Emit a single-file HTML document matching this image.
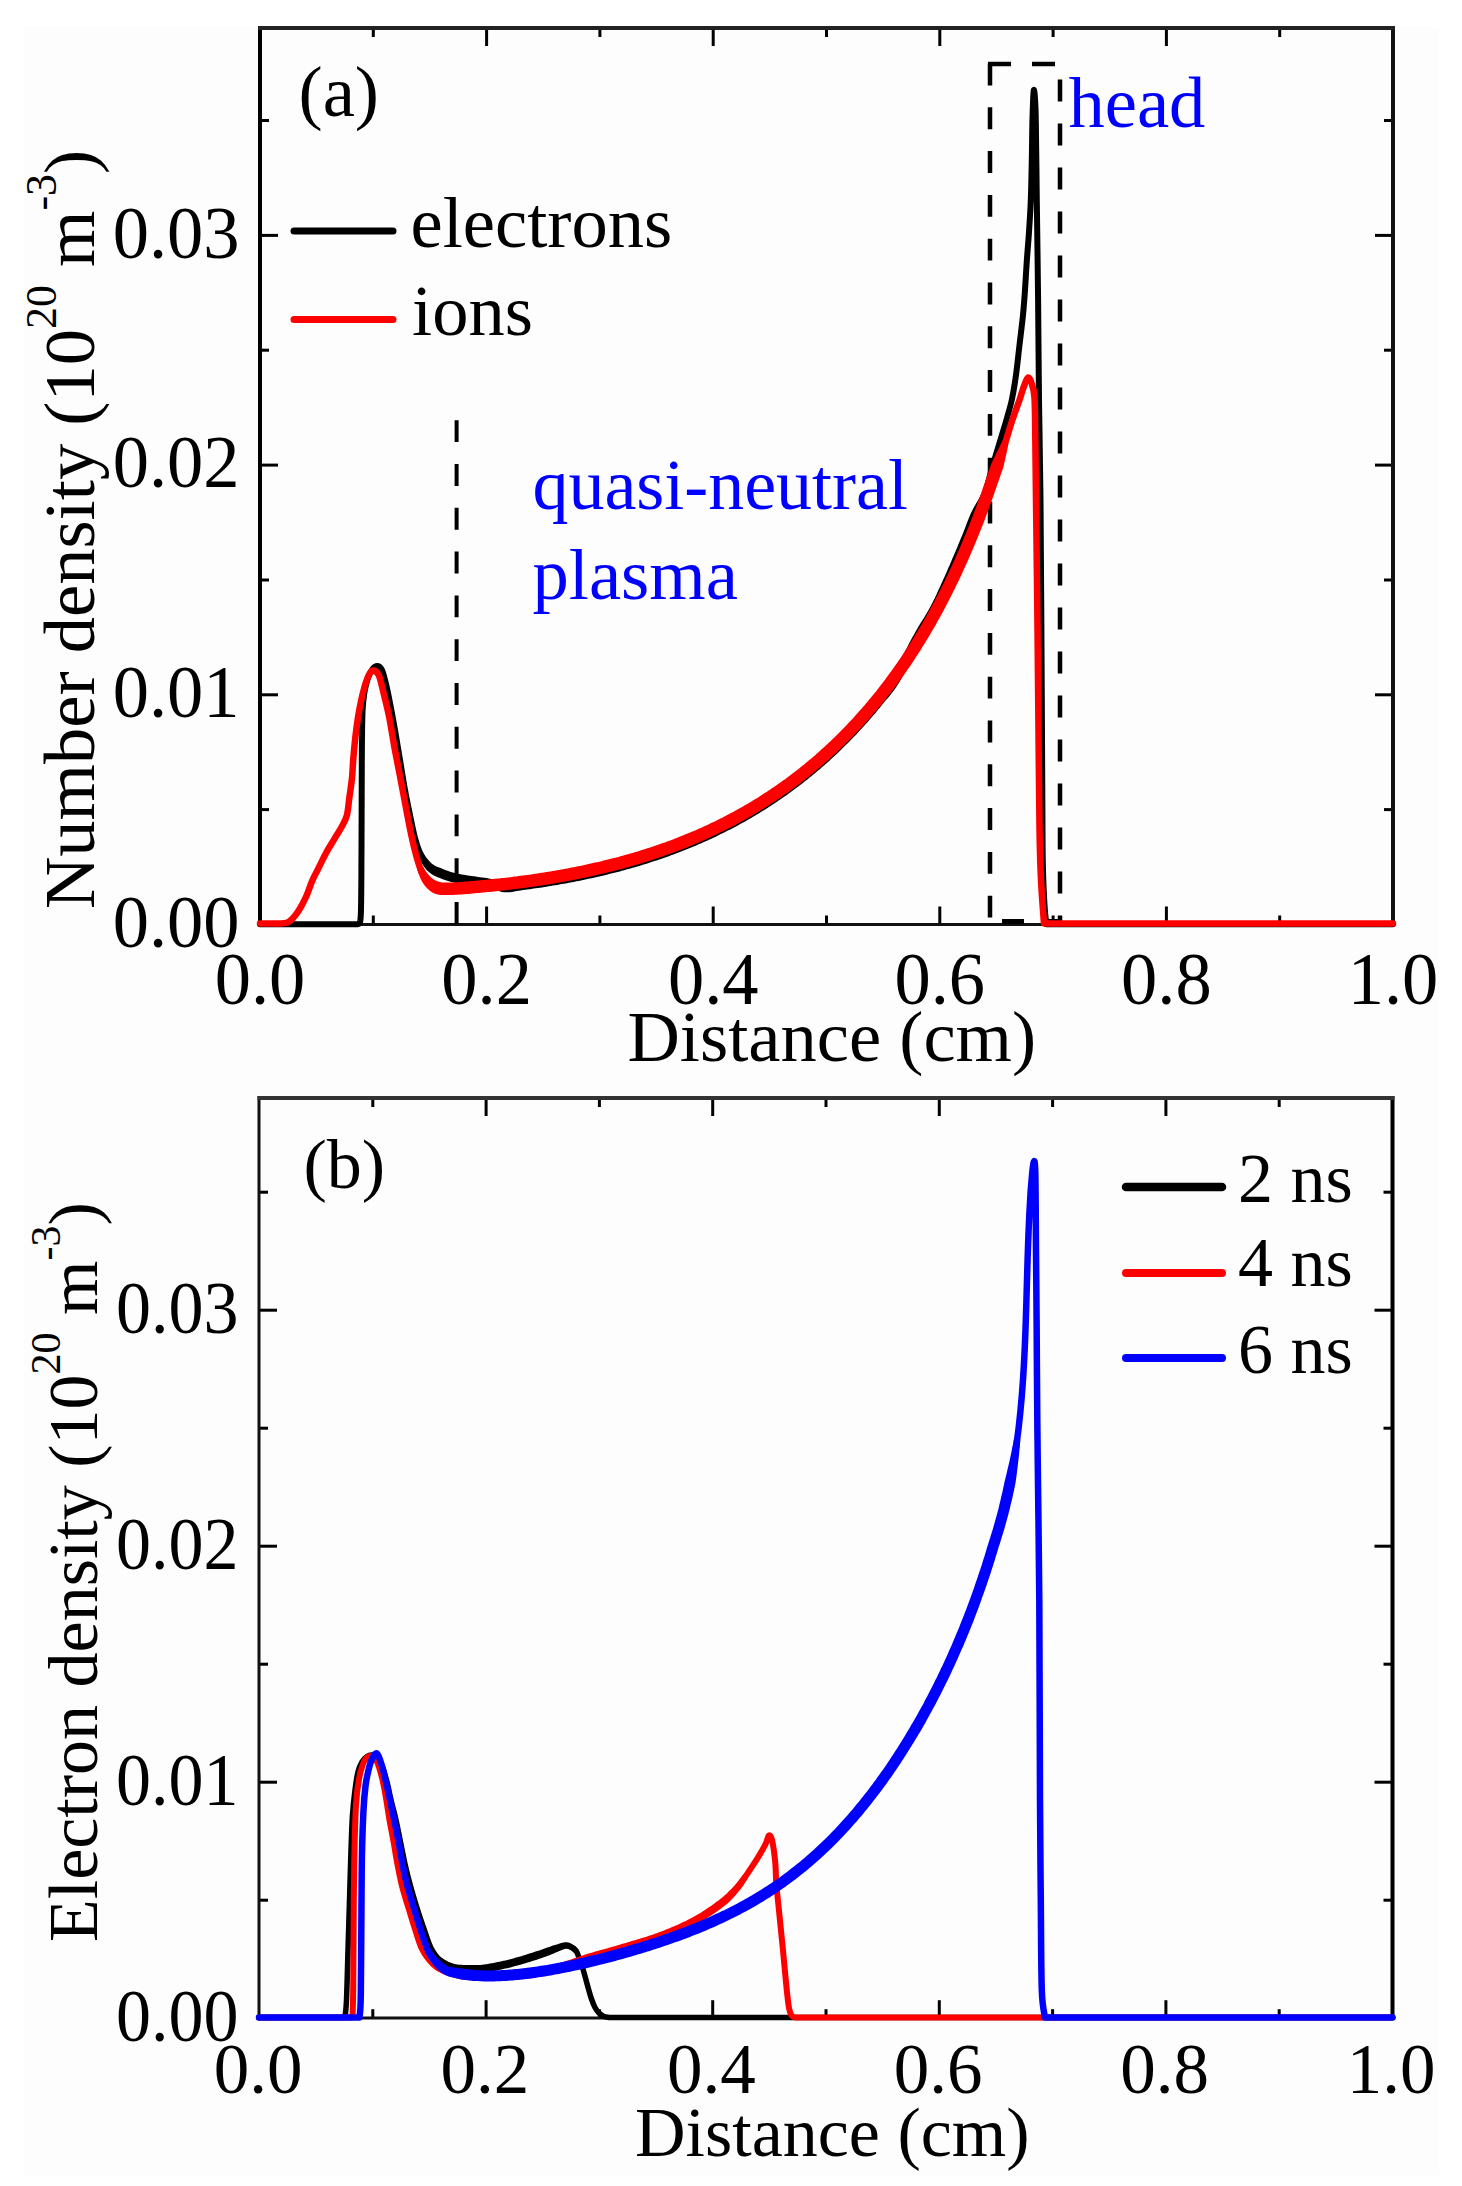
<!DOCTYPE html>
<html><head><meta charset="utf-8"><style>
html,body{margin:0;padding:0;background:#fff;width:1462px;height:2186px;overflow:hidden}
svg{display:block;position:absolute;left:0;top:0}
</style></head><body>
<svg xmlns="http://www.w3.org/2000/svg" width="1462" height="2186" viewBox="0 0 1462 2186" font-family='"Liberation Serif", serif'>
<rect x="0" y="0" width="1462" height="2186" fill="#fff"/>
<rect x="24" y="26" width="1415" height="2149" fill="#fdfdfd"/>
<line x1="373.3" y1="924.5" x2="373.3" y2="915.5" stroke="#000" stroke-width="3"/>
<line x1="373.3" y1="28" x2="373.3" y2="37" stroke="#000" stroke-width="3"/>
<line x1="486.6" y1="924.5" x2="486.6" y2="906.5" stroke="#000" stroke-width="3"/>
<line x1="486.6" y1="28" x2="486.6" y2="46" stroke="#000" stroke-width="3"/>
<line x1="599.9" y1="924.5" x2="599.9" y2="915.5" stroke="#000" stroke-width="3"/>
<line x1="599.9" y1="28" x2="599.9" y2="37" stroke="#000" stroke-width="3"/>
<line x1="713.2" y1="924.5" x2="713.2" y2="906.5" stroke="#000" stroke-width="3"/>
<line x1="713.2" y1="28" x2="713.2" y2="46" stroke="#000" stroke-width="3"/>
<line x1="826.5" y1="924.5" x2="826.5" y2="915.5" stroke="#000" stroke-width="3"/>
<line x1="826.5" y1="28" x2="826.5" y2="37" stroke="#000" stroke-width="3"/>
<line x1="939.8" y1="924.5" x2="939.8" y2="906.5" stroke="#000" stroke-width="3"/>
<line x1="939.8" y1="28" x2="939.8" y2="46" stroke="#000" stroke-width="3"/>
<line x1="1053.1" y1="924.5" x2="1053.1" y2="915.5" stroke="#000" stroke-width="3"/>
<line x1="1053.1" y1="28" x2="1053.1" y2="37" stroke="#000" stroke-width="3"/>
<line x1="1166.4" y1="924.5" x2="1166.4" y2="906.5" stroke="#000" stroke-width="3"/>
<line x1="1166.4" y1="28" x2="1166.4" y2="46" stroke="#000" stroke-width="3"/>
<line x1="1279.7" y1="924.5" x2="1279.7" y2="915.5" stroke="#000" stroke-width="3"/>
<line x1="1279.7" y1="28" x2="1279.7" y2="37" stroke="#000" stroke-width="3"/>
<line x1="260" y1="809.6" x2="269" y2="809.6" stroke="#000" stroke-width="3"/>
<line x1="1393" y1="809.6" x2="1384" y2="809.6" stroke="#000" stroke-width="3"/>
<line x1="260" y1="694.8" x2="278" y2="694.8" stroke="#000" stroke-width="3"/>
<line x1="1393" y1="694.8" x2="1375" y2="694.8" stroke="#000" stroke-width="3"/>
<line x1="260" y1="580.0" x2="269" y2="580.0" stroke="#000" stroke-width="3"/>
<line x1="1393" y1="580.0" x2="1384" y2="580.0" stroke="#000" stroke-width="3"/>
<line x1="260" y1="465.1" x2="278" y2="465.1" stroke="#000" stroke-width="3"/>
<line x1="1393" y1="465.1" x2="1375" y2="465.1" stroke="#000" stroke-width="3"/>
<line x1="260" y1="350.2" x2="269" y2="350.2" stroke="#000" stroke-width="3"/>
<line x1="1393" y1="350.2" x2="1384" y2="350.2" stroke="#000" stroke-width="3"/>
<line x1="260" y1="235.4" x2="278" y2="235.4" stroke="#000" stroke-width="3"/>
<line x1="1393" y1="235.4" x2="1375" y2="235.4" stroke="#000" stroke-width="3"/>
<line x1="260" y1="120.5" x2="269" y2="120.5" stroke="#000" stroke-width="3"/>
<line x1="1393" y1="120.5" x2="1384" y2="120.5" stroke="#000" stroke-width="3"/>
<rect x="258" y="26" width="4" height="900" fill="#000"/>
<rect x="1391" y="26" width="4" height="900" fill="#111"/>
<rect x="258" y="26" width="1137" height="4" fill="#222"/>
<rect x="258" y="923" width="1137" height="3" fill="#111"/>
<line x1="456.6" y1="420.2" x2="456.6" y2="924.5" stroke="#000" stroke-width="4" stroke-dasharray="21.9 21.9"/>
<line x1="988" y1="64" x2="1062" y2="64" stroke="#000" stroke-width="4.5" stroke-dasharray="23 21"/>
<line x1="1060" y1="64" x2="1060" y2="924" stroke="#000" stroke-width="4.5" stroke-dasharray="22 22" stroke-dashoffset="28.5"/>
<line x1="990" y1="62" x2="990" y2="924" stroke="#000" stroke-width="4.5" stroke-dasharray="21.9 21.9" stroke-dashoffset="-1.5"/>
<line x1="990" y1="921.5" x2="1062" y2="921.5" stroke="#000" stroke-width="5" stroke-dasharray="22 22" stroke-dashoffset="32"/>
<path d="M260.00,924.20 C276.33,924.20 341.67,924.20 358.00,924.20 C358.47,922.67 360.22,927.37 360.80,915.00 C361.38,902.63 361.33,875.83 361.50,850.00 C361.67,824.17 361.63,783.00 361.80,760.00 C361.97,737.00 362.05,723.33 362.50,712.00 C362.95,700.67 363.58,697.67 364.50,692.00 C365.42,686.33 366.67,681.83 368.00,678.00 C369.33,674.17 370.90,671.00 372.50,669.00 C374.10,667.00 376.02,665.83 377.60,666.00 C379.18,666.17 380.60,667.00 382.00,670.00 C383.40,673.00 384.67,678.50 386.00,684.00 C387.33,689.50 388.50,695.33 390.00,703.00 C391.50,710.67 393.33,720.50 395.00,730.00 C396.67,739.50 398.33,750.00 400.00,760.00 C401.67,770.00 403.33,780.83 405.00,790.00 C406.67,799.17 408.33,807.00 410.00,815.00 C411.67,823.00 413.33,831.67 415.00,838.00 C416.67,844.33 418.17,848.83 420.00,853.00 C421.83,857.17 424.00,860.33 426.00,863.00 C428.00,865.67 429.67,867.33 432.00,869.00 C434.33,870.67 436.17,871.50 440.00,873.00 C443.83,874.50 449.50,876.67 455.00,878.00 C460.50,879.33 467.17,880.08 473.00,881.00 C478.83,881.92 484.67,882.41 490.00,883.50 C495.33,884.59 500.00,887.16 505.00,887.53 C510.00,887.89 515.00,886.35 520.00,885.70 C525.00,885.05 530.00,884.36 535.00,883.63 C540.00,882.89 545.00,882.12 550.00,881.30 C555.00,880.48 560.00,879.61 565.00,878.69 C570.00,877.78 575.00,876.81 580.00,875.79 C585.00,874.77 590.00,873.70 595.00,872.56 C600.00,871.43 605.00,870.24 610.00,868.99 C615.00,867.73 620.00,866.42 625.00,865.04 C630.00,863.66 635.00,862.21 640.00,860.69 C645.00,859.16 650.00,857.57 655.00,855.90 C660.00,854.23 665.00,852.48 670.00,850.64 C675.00,848.81 680.00,846.89 685.00,844.88 C690.00,842.87 695.00,840.78 700.00,838.58 C705.00,836.38 710.00,834.09 715.00,831.69 C720.00,829.29 725.00,826.79 730.00,824.17 C735.00,821.56 740.00,818.83 745.00,815.98 C750.00,813.12 755.00,810.16 760.00,807.05 C765.00,803.94 770.00,800.71 775.00,797.32 C780.00,793.94 785.00,790.43 790.00,786.74 C795.00,783.06 800.00,779.23 805.00,775.22 C810.00,771.21 815.00,767.04 820.00,762.67 C825.00,758.30 830.00,753.76 835.00,748.99 C840.00,744.22 845.00,739.27 850.00,734.06 C855.00,728.85 860.00,723.43 865.00,717.73 C870.00,712.02 875.00,706.09 880.00,699.82 C885.00,693.55 888.67,690.60 895.00,680.13 C901.33,669.66 911.50,648.69 918.00,637.00 C924.50,625.31 929.33,618.67 934.00,610.00 C938.67,601.33 942.17,593.33 946.00,585.00 C949.83,576.67 953.50,568.17 957.00,560.00 C960.50,551.83 963.83,543.83 967.00,536.00 C970.17,528.17 973.00,520.17 976.00,513.00 C979.00,505.83 982.33,500.50 985.00,493.00 C987.67,485.50 989.33,477.17 992.00,468.00 C994.67,458.83 998.50,446.33 1001.00,438.00 C1003.50,429.67 1005.17,424.50 1007.00,418.00 C1008.83,411.50 1010.50,406.17 1012.00,399.00 C1013.50,391.83 1014.75,384.00 1016.00,375.00 C1017.25,366.00 1018.33,355.00 1019.50,345.00 C1020.67,335.00 1022.08,324.17 1023.00,315.00 C1023.92,305.83 1024.37,299.00 1025.00,290.00 C1025.63,281.00 1026.13,270.67 1026.80,261.00 C1027.47,251.33 1028.33,242.17 1029.00,232.00 C1029.67,221.83 1030.33,212.00 1030.80,200.00 C1031.27,188.00 1031.52,173.67 1031.80,160.00 C1032.08,146.33 1032.17,129.67 1032.50,118.00 C1032.83,106.33 1033.30,91.67 1033.80,90.00 C1034.30,88.33 1035.10,98.00 1035.50,108.00 C1035.90,118.00 1035.98,134.67 1036.20,150.00 C1036.42,165.33 1036.48,175.00 1036.80,200.00 C1037.12,225.00 1037.73,266.67 1038.10,300.00 C1038.47,333.33 1038.60,366.67 1039.00,400.00 C1039.40,433.33 1040.03,450.00 1040.50,500.00 C1040.97,550.00 1041.45,641.67 1041.80,700.00 C1042.15,758.33 1042.15,815.83 1042.60,850.00 C1043.05,884.17 1043.87,892.63 1044.50,905.00 C1045.13,917.37 1046.08,921.00 1046.40,924.20 C1104.17,924.20 1335.23,924.20 1393.00,924.20" fill="none" stroke="#000" stroke-width="6" stroke-linejoin="round" stroke-linecap="round" />
<path d="M417.3,854.3 L418.3,856.8 L419.5,859.2 L420.7,861.4 L421.9,863.4 L423.0,865.3 L424.5,867.3 L426.0,869.2 L427.7,870.9 L429.5,872.5 L431.4,873.9 L433.4,875.2 L435.6,876.3 L438.2,877.4 L440.0,878.1 L442.0,878.9 L444.2,879.7 L446.5,880.4 L448.9,881.2 L451.4,882.0 L453.9,882.6 L455.9,883.1 L457.9,883.5 L460.0,883.8 L462.1,884.2 L464.2,884.5 L466.3,884.8 L468.3,885.1 L470.3,885.4 L472.3,885.7 L474.5,886.0 L476.7,886.3 L478.9,886.6 L481.1,886.9 L483.2,887.2 L485.2,887.5 L487.2,887.8 L489.0,888.1 L491.0,888.6 L493.0,889.2 L495.1,889.9 L497.2,890.7 L499.6,891.3 L502.0,891.9 L504.6,892.3 L507.2,892.3 L509.7,892.2 L512.1,891.9 L514.4,891.5 L516.6,891.1 L518.6,890.7 L520.7,890.4 L522.8,890.1 L524.9,889.8 L527.1,889.5 L529.2,889.3 L531.4,888.9 L533.5,888.6 L535.7,888.3 L537.8,888.0 L540.0,887.7 L542.2,887.4 L544.3,887.0 L546.5,886.7 L548.6,886.3 L550.8,886.0 L552.9,885.6 L555.1,885.3 L557.2,884.9 L559.4,884.5 L561.5,884.1 L563.7,883.8 L565.9,883.4 L568.0,883.0 L570.2,882.6 L572.3,882.2 L574.5,881.7 L576.6,881.3 L578.8,880.9 L581.0,880.4 L583.1,880.0 L585.3,879.5 L587.4,879.1 L589.6,878.6 L591.7,878.2 L593.9,877.7 L596.0,877.2 L598.2,876.7 L600.4,876.2 L602.5,875.7 L604.7,875.2 L606.8,874.7 L609.0,874.1 L611.2,873.6 L613.3,873.1 L615.5,872.5 L617.6,871.9 L619.8,871.4 L621.9,870.8 L624.1,870.2 L626.3,869.6 L628.4,869.0 L630.6,868.4 L632.7,867.8 L634.9,867.2 L637.1,866.5 L639.2,865.9 L641.4,865.2 L643.5,864.6 L645.7,863.9 L647.9,863.2 L650.0,862.5 L652.2,861.8 L654.3,861.1 L656.5,860.4 L658.7,859.7 L660.8,858.9 L663.0,858.2 L665.2,857.4 L667.3,856.7 L669.5,855.9 L671.6,855.1 L673.5,854.4 L675.4,853.7 L677.3,853.0 L679.2,852.3 L681.1,851.5 L683.0,850.8 L684.9,850.0 L686.8,849.3 L688.7,848.5 L690.6,847.8 L692.4,847.0 L694.3,846.2 L696.2,845.4 L698.1,844.6 L700.0,843.8 L701.9,842.9 L703.8,842.1 L705.7,841.2 L707.6,840.4 L709.5,839.5 L711.4,838.7 L713.3,837.8 L715.2,836.9 L717.1,836.0 L718.9,835.1 L720.8,834.1 L722.7,833.2 L724.6,832.3 L726.5,831.3 L728.4,830.3 L730.3,829.4 L732.2,828.4 L734.1,827.4 L736.0,826.4 L737.9,825.4 L739.8,824.3 L741.7,823.3 L743.6,822.2 L745.5,821.2 L747.4,820.1 L749.2,819.0 L751.1,817.9 L753.0,816.8 L754.9,815.7 L756.8,814.6 L758.7,813.4 L760.6,812.3 L762.5,811.1 L764.4,809.9 L766.3,808.7 L768.2,807.5 L770.1,806.3 L772.0,805.0 L773.9,803.8 L775.8,802.5 L777.7,801.3 L779.3,800.1 L781.0,799.0 L782.7,797.8 L784.4,796.6 L786.1,795.4 L787.8,794.2 L789.4,793.0 L791.1,791.8 L792.8,790.6 L794.5,789.3 L796.2,788.1 L797.9,786.8 L799.6,785.5 L801.2,784.2 L802.9,782.9 L804.6,781.6 L806.3,780.3 L808.0,778.9 L809.7,777.6 L811.3,776.2 L813.0,774.8 L814.7,773.4 L816.4,772.0 L818.1,770.6 L819.8,769.2 L821.4,767.7 L823.1,766.2 L824.6,764.9 L826.2,763.6 L827.7,762.2 L829.2,760.9 L830.7,759.5 L832.2,758.1 L833.7,756.7 L835.2,755.3 L836.8,753.9 L838.3,752.4 L839.8,751.0 L841.3,749.5 L842.8,748.0 L844.3,746.6 L845.8,745.1 L847.4,743.5 L848.9,742.0 L850.4,740.5 L851.9,738.9 L853.4,737.3 L854.8,735.9 L856.2,734.5 L857.6,733.0 L858.9,731.5 L860.3,730.0 L861.7,728.5 L863.1,727.0 L864.4,725.5 L865.8,724.0 L867.2,722.4 L868.6,720.9 L869.9,719.3 L871.3,717.7 L872.7,716.1 L874.1,714.5 L875.5,712.9 L876.8,711.2 L878.2,709.6 L879.6,707.9 L881.0,706.2 L882.3,704.5 L883.7,702.8 L884.9,701.3 L886.0,700.0 L887.2,698.7 L888.3,697.4 L889.5,696.0 L890.7,694.6 L891.9,693.0 L893.2,691.3 L894.6,689.5 L896.0,687.4 L897.5,685.1 L899.1,682.6 L899.9,681.2 L900.8,679.7 L901.7,678.1 L902.6,676.4 L903.6,674.7 L904.5,672.9 L905.5,671.0 L906.5,669.1 L907.6,667.2 L908.6,665.2 L909.6,663.2 L910.7,661.2 L911.7,659.2 L912.7,657.2 L913.8,655.2 L914.8,653.2 L915.8,651.3 L916.8,649.4 L917.7,647.5 L918.7,645.7 L919.6,644.0 L920.5,642.4 L921.3,640.8 L922.1,639.3 L923.4,637.1 L924.6,635.0 L925.8,633.0 L926.9,631.0 L928.1,629.2 L929.1,627.4 L930.2,625.7 L931.2,624.0 L932.3,622.4 L933.3,620.7 L934.3,619.1 L935.3,617.4 L936.2,615.7 L937.2,614.0 L938.2,612.3 L939.3,610.2 L940.3,608.2 L941.3,606.2 L942.3,604.3 L943.2,602.3 L944.2,600.4 L945.1,598.4 L946.0,596.5 L946.8,594.6 L947.7,592.7 L948.6,590.8 L949.4,588.9 L950.3,587.0 L951.2,585.0 L952.1,583.1 L953.0,581.2 L953.8,579.2 L954.7,577.3 L955.6,575.3 L956.4,573.4 L957.2,571.4 L958.1,569.5 L958.9,567.6 L959.7,565.7 L960.6,563.8 L961.4,561.9 L962.2,560.0 L963.0,558.1 L963.8,556.2 L964.6,554.4 L965.3,552.5 L966.1,550.6 L966.9,548.8 L967.7,546.9 L968.4,545.1 L969.2,543.3 L969.9,541.4 L970.7,539.6 L971.4,537.8 L972.2,535.8 L973.0,533.8 L973.8,531.8 L974.5,529.8 L975.3,527.9 L976.0,525.9 L976.7,524.0 L977.5,522.1 L978.2,520.3 L978.9,518.4 L979.5,516.5 L980.1,514.7 L980.8,512.7 L981.6,510.7 L982.4,508.7 L983.2,506.7 L984.0,504.8 L984.8,502.7 L985.6,500.7 L986.4,498.6 L987.1,496.3 L987.8,494.1 L982.2,491.9 L981.3,494.0 L980.3,496.0 L979.3,497.9 L978.3,499.7 L977.3,501.5 L976.2,503.3 L975.1,505.2 L974.1,507.1 L973.0,509.1 L971.9,511.3 L971.0,513.1 L970.1,514.9 L969.4,516.8 L968.6,518.7 L967.9,520.6 L967.1,522.6 L966.4,524.5 L965.6,526.4 L964.9,528.4 L964.1,530.3 L963.4,532.3 L962.6,534.2 L961.9,536.0 L961.1,537.8 L960.4,539.6 L959.6,541.5 L958.9,543.3 L958.1,545.1 L957.4,547.0 L956.6,548.8 L955.8,550.7 L955.0,552.5 L954.2,554.4 L953.4,556.3 L952.6,558.1 L951.8,560.0 L951.0,561.9 L950.2,563.8 L949.4,565.7 L948.5,567.6 L947.7,569.6 L946.9,571.5 L946.0,573.4 L945.2,575.3 L944.3,577.3 L943.4,579.2 L942.6,581.1 L941.7,583.0 L940.8,584.9 L939.9,586.9 L939.1,588.8 L938.2,590.6 L937.3,592.5 L936.5,594.4 L935.6,596.3 L934.7,598.2 L933.8,600.1 L932.8,602.0 L931.8,603.9 L930.9,605.8 L929.8,607.7 L928.9,609.4 L928.0,611.0 L927.1,612.6 L926.1,614.2 L925.2,615.8 L924.2,617.4 L923.2,619.0 L922.1,620.7 L921.0,622.5 L919.9,624.3 L918.8,626.1 L917.6,628.1 L916.4,630.2 L915.1,632.4 L913.9,634.7 L913.0,636.2 L912.1,637.8 L911.2,639.5 L910.3,641.3 L909.3,643.1 L908.3,645.0 L907.3,646.9 L906.3,648.9 L905.3,650.8 L904.3,652.8 L903.3,654.8 L902.2,656.8 L901.2,658.8 L900.2,660.8 L899.1,662.8 L898.1,664.7 L897.1,666.5 L896.2,668.4 L895.2,670.1 L894.3,671.8 L893.4,673.4 L892.5,674.9 L891.7,676.4 L890.9,677.6 L889.5,680.0 L888.1,682.1 L886.8,684.0 L885.6,685.6 L884.5,687.1 L883.3,688.5 L882.2,689.9 L881.1,691.2 L880.0,692.5 L878.8,693.8 L877.6,695.3 L876.3,696.8 L874.9,698.5 L873.6,700.2 L872.2,701.9 L870.9,703.5 L869.5,705.1 L868.2,706.7 L866.8,708.3 L865.5,709.9 L864.1,711.5 L862.8,713.0 L861.4,714.6 L860.1,716.1 L858.7,717.6 L857.4,719.2 L856.0,720.6 L854.7,722.1 L853.3,723.6 L852.0,725.1 L850.6,726.5 L849.3,727.9 L847.9,729.4 L846.6,730.8 L845.1,732.3 L843.6,733.8 L842.1,735.3 L840.6,736.8 L839.2,738.3 L837.7,739.8 L836.2,741.2 L834.7,742.7 L833.2,744.1 L831.7,745.6 L830.2,747.0 L828.8,748.4 L827.3,749.7 L825.8,751.1 L824.3,752.5 L822.8,753.8 L821.3,755.1 L819.8,756.5 L818.4,757.8 L816.9,759.1 L815.2,760.5 L813.6,761.9 L811.9,763.4 L810.3,764.7 L808.6,766.1 L807.0,767.5 L805.3,768.8 L803.7,770.2 L802.0,771.5 L800.4,772.8 L798.7,774.1 L797.1,775.4 L795.4,776.7 L793.8,778.0 L792.1,779.2 L790.5,780.5 L788.8,781.7 L787.2,782.9 L785.5,784.1 L783.9,785.3 L782.2,786.5 L780.6,787.7 L778.9,788.8 L777.3,790.0 L775.6,791.1 L774.0,792.3 L772.3,793.4 L770.5,794.6 L768.6,795.9 L766.8,797.1 L764.9,798.3 L763.1,799.5 L761.2,800.7 L759.3,801.9 L757.5,803.0 L755.6,804.2 L753.8,805.3 L751.9,806.4 L750.1,807.5 L748.2,808.6 L746.4,809.7 L744.5,810.8 L742.6,811.9 L740.8,812.9 L738.9,813.9 L737.1,815.0 L735.2,816.0 L733.4,817.0 L731.5,818.0 L729.7,819.0 L727.8,820.0 L725.9,820.9 L724.1,821.9 L722.2,822.8 L720.4,823.8 L718.5,824.7 L716.7,825.6 L714.8,826.5 L712.9,827.4 L711.1,828.3 L709.2,829.2 L707.4,830.0 L705.5,830.9 L703.7,831.7 L701.8,832.6 L699.9,833.4 L698.1,834.2 L696.2,835.0 L694.4,835.8 L692.5,836.6 L690.7,837.4 L688.8,838.2 L686.9,839.0 L685.1,839.7 L683.2,840.5 L681.4,841.2 L679.5,842.0 L677.7,842.7 L675.8,843.4 L673.9,844.1 L672.1,844.8 L670.2,845.5 L668.4,846.2 L666.2,847.0 L664.1,847.7 L662.0,848.5 L659.9,849.2 L657.7,850.0 L655.6,850.7 L653.5,851.4 L651.4,852.1 L649.2,852.8 L647.1,853.5 L645.0,854.2 L642.9,854.8 L640.7,855.5 L638.6,856.1 L636.5,856.8 L634.4,857.4 L632.2,858.0 L630.1,858.7 L628.0,859.3 L625.9,859.9 L623.7,860.5 L621.6,861.0 L619.5,861.6 L617.4,862.2 L615.2,862.7 L613.1,863.3 L611.0,863.8 L608.8,864.4 L606.7,864.9 L604.6,865.4 L602.5,865.9 L600.3,866.5 L598.2,867.0 L596.1,867.4 L594.0,867.9 L591.8,868.4 L589.7,868.9 L587.6,869.3 L585.4,869.8 L583.3,870.3 L581.2,870.7 L579.0,871.1 L576.9,871.6 L574.8,872.0 L572.7,872.4 L570.5,872.8 L568.4,873.2 L566.3,873.6 L564.1,874.0 L562.0,874.4 L559.9,874.8 L557.8,875.2 L555.6,875.5 L553.5,875.9 L551.4,876.3 L549.2,876.6 L547.1,877.0 L545.0,877.3 L542.8,877.6 L540.7,878.0 L538.6,878.3 L536.4,878.6 L534.3,878.9 L532.2,879.2 L530.0,879.5 L527.9,879.8 L525.8,880.1 L523.7,880.4 L521.5,880.7 L519.3,881.0 L517.1,881.3 L514.9,881.7 L512.7,882.1 L510.7,882.5 L508.8,882.7 L507.0,882.8 L505.4,882.8 L503.7,882.6 L502.0,882.2 L500.1,881.6 L498.1,880.9 L495.9,880.2 L493.5,879.5 L491.0,878.9 L488.8,878.4 L486.6,878.1 L484.5,877.8 L482.3,877.5 L480.1,877.2 L478.0,876.9 L475.9,876.6 L473.7,876.3 L471.7,876.0 L469.7,875.7 L467.6,875.4 L465.6,875.1 L463.6,874.8 L461.6,874.5 L459.7,874.1 L457.9,873.8 L456.1,873.4 L453.9,872.8 L451.7,872.2 L449.5,871.4 L447.4,870.7 L445.3,870.0 L443.4,869.2 L441.8,868.6 L439.3,867.6 L437.5,866.9 L436.0,866.3 L434.5,865.5 L433.0,864.5 L431.7,863.5 L430.4,862.3 L429.0,860.7 L427.7,859.3 L426.4,857.7 L425.2,855.9 L423.9,854.0 L422.7,851.7 Z" fill="#000"/>
<path d="M260.00,923.40 C263.67,923.40 278.33,923.40 282.00,923.40 C283.20,923.10 286.50,923.62 289.20,921.60 C291.90,919.58 295.42,915.37 298.20,911.30 C300.98,907.23 303.55,902.32 305.90,897.20 C308.25,892.08 310.17,885.50 312.30,880.60 C314.43,875.70 316.35,872.50 318.70,867.80 C321.05,863.10 323.85,857.10 326.40,852.40 C328.95,847.70 331.45,843.87 334.00,839.60 C336.55,835.33 339.55,830.87 341.70,826.80 C343.85,822.73 345.62,820.12 346.90,815.20 C348.18,810.28 348.55,803.48 349.40,797.30 C350.25,791.12 351.35,784.50 352.00,778.10 C352.65,771.70 352.67,766.37 353.30,758.90 C353.93,751.43 354.73,741.85 355.80,733.30 C356.87,724.75 358.20,715.50 359.70,707.60 C361.20,699.70 363.10,691.65 364.80,685.90 C366.50,680.15 368.40,675.67 369.90,673.10 C371.40,670.53 372.30,670.08 373.80,670.50 C375.30,670.92 377.20,671.55 378.90,675.60 C380.60,679.65 382.30,687.97 384.00,694.80 C385.70,701.63 387.40,708.05 389.10,716.60 C390.80,725.15 392.48,736.70 394.20,746.10 C395.92,755.50 397.68,764.03 399.40,773.00 C401.12,781.97 402.80,790.93 404.50,799.90 C406.20,808.87 407.90,818.48 409.60,826.80 C411.30,835.12 412.97,842.97 414.70,849.80 C416.43,856.63 418.12,862.93 420.00,867.80 C421.88,872.67 424.00,876.13 426.00,879.00 C428.00,881.87 429.67,883.42 432.00,885.00 C434.33,886.58 436.17,887.90 440.00,888.50 C443.83,889.10 450.00,888.76 455.00,888.59 C460.00,888.41 465.00,887.86 470.00,887.45 C475.00,887.04 480.00,886.60 485.00,886.12 C490.00,885.64 495.00,885.13 500.00,884.59 C505.00,884.04 510.00,883.46 515.00,882.83 C520.00,882.21 525.00,881.55 530.00,880.85 C535.00,880.14 540.00,879.40 545.00,878.61 C550.00,877.81 555.00,876.98 560.00,876.09 C565.00,875.21 570.00,874.28 575.00,873.29 C580.00,872.31 585.00,871.27 590.00,870.18 C595.00,869.08 600.00,867.93 605.00,866.72 C610.00,865.51 615.00,864.24 620.00,862.90 C625.00,861.56 630.00,860.16 635.00,858.68 C640.00,857.21 645.00,855.67 650.00,854.05 C655.00,852.42 660.00,850.73 665.00,848.95 C670.00,847.17 675.00,845.31 680.00,843.36 C685.00,841.41 690.00,839.38 695.00,837.24 C700.00,835.11 705.00,832.89 710.00,830.56 C715.00,828.22 720.00,825.80 725.00,823.25 C730.00,820.71 735.00,818.06 740.00,815.29 C745.00,812.52 750.00,809.63 755.00,806.61 C760.00,803.59 765.00,800.45 770.00,797.16 C775.00,793.87 780.00,790.45 785.00,786.87 C790.00,783.29 795.00,779.57 800.00,775.67 C805.00,771.77 810.00,767.72 815.00,763.47 C820.00,759.22 825.00,754.81 830.00,750.18 C835.00,745.55 840.00,740.74 845.00,735.68 C850.00,730.62 855.00,725.37 860.00,719.83 C865.00,714.30 870.00,708.55 875.00,702.48 C880.00,696.40 885.00,690.09 890.00,683.41 C895.00,676.72 900.00,669.76 905.00,662.38 C910.00,654.99 915.00,647.30 920.00,639.10 C925.00,630.90 930.00,622.34 935.00,613.19 C940.00,604.04 945.00,594.48 950.00,584.20 C955.00,573.93 960.00,563.17 965.00,551.55 C970.00,539.94 975.00,527.75 980.00,514.52 C985.00,501.29 990.75,484.27 995.00,472.18 C999.25,460.10 1002.67,450.53 1005.50,442.00 C1008.33,433.47 1009.67,428.00 1012.00,421.00 C1014.33,414.00 1017.50,405.83 1019.50,400.00 C1021.50,394.17 1022.58,389.75 1024.00,386.00 C1025.42,382.25 1026.75,378.00 1028.00,377.50 C1029.25,377.00 1030.42,379.58 1031.50,383.00 C1032.58,386.42 1033.87,388.50 1034.50,398.00 C1035.13,407.50 1035.05,423.00 1035.30,440.00 C1035.55,457.00 1035.68,473.33 1036.00,500.00 C1036.32,526.67 1036.83,566.67 1037.20,600.00 C1037.57,633.33 1037.82,661.83 1038.20,700.00 C1038.58,738.17 1039.03,799.00 1039.50,829.00 C1039.97,859.00 1040.25,864.27 1041.00,880.00 C1041.75,895.73 1043.50,916.17 1044.00,923.40 C1102.17,923.40 1334.83,923.40 1393.00,923.40" fill="none" stroke="#f00" stroke-width="6.5" stroke-linejoin="round" stroke-linecap="round" />
<path d="M417.0,869.0 L417.8,871.5 L418.6,873.9 L419.5,876.1 L420.3,878.1 L421.2,880.0 L422.1,881.8 L423.6,884.1 L425.2,886.2 L426.9,888.1 L428.7,889.7 L430.5,891.2 L432.8,892.8 L435.7,893.9 L438.9,894.7 L441.3,894.9 L443.6,895.1 L445.9,895.1 L448.3,895.1 L450.7,895.0 L453.0,894.9 L455.3,894.8 L457.5,894.7 L459.7,894.6 L461.9,894.4 L464.1,894.2 L466.3,894.0 L468.4,893.9 L470.5,893.7 L472.7,893.5 L474.8,893.3 L477.0,893.1 L479.1,892.9 L481.3,892.7 L483.4,892.5 L485.6,892.3 L487.7,892.1 L489.9,891.9 L492.1,891.7 L494.2,891.5 L496.4,891.3 L498.5,891.0 L500.7,890.8 L502.8,890.6 L505.0,890.3 L507.1,890.1 L509.3,889.8 L511.5,889.6 L513.6,889.3 L515.8,889.0 L517.9,888.8 L520.1,888.5 L522.2,888.2 L524.4,887.9 L526.6,887.6 L528.7,887.3 L530.9,887.0 L533.0,886.7 L535.2,886.4 L537.3,886.1 L539.5,885.8 L541.7,885.5 L543.8,885.1 L546.0,884.8 L548.1,884.4 L550.3,884.1 L552.5,883.7 L554.6,883.4 L556.8,883.0 L558.9,882.6 L561.1,882.2 L563.2,881.9 L565.4,881.5 L567.6,881.1 L569.7,880.7 L571.9,880.3 L574.0,879.8 L576.2,879.4 L578.4,879.0 L580.5,878.6 L582.7,878.1 L584.9,877.7 L587.0,877.2 L589.2,876.8 L591.3,876.3 L593.5,875.8 L595.7,875.3 L597.8,874.8 L600.0,874.3 L602.1,873.8 L604.3,873.3 L606.5,872.8 L608.6,872.3 L610.8,871.7 L613.0,871.2 L615.1,870.6 L617.3,870.1 L619.5,869.5 L621.6,868.9 L623.8,868.4 L625.9,867.8 L628.1,867.2 L630.3,866.6 L632.4,865.9 L634.6,865.3 L636.8,864.7 L638.9,864.0 L641.1,863.4 L643.3,862.7 L645.4,862.1 L647.6,861.4 L649.8,860.7 L651.9,860.0 L654.1,859.3 L656.3,858.6 L658.4,857.8 L660.6,857.1 L662.8,856.4 L664.9,855.6 L667.1,854.8 L669.0,854.2 L670.9,853.5 L672.8,852.8 L674.7,852.1 L676.6,851.4 L678.5,850.6 L680.4,849.9 L682.3,849.2 L684.2,848.4 L686.1,847.7 L688.0,846.9 L689.9,846.2 L691.8,845.4 L693.7,844.6 L695.6,843.8 L697.5,843.0 L699.4,842.2 L701.2,841.4 L703.1,840.5 L705.0,839.7 L706.9,838.8 L708.8,838.0 L710.7,837.1 L712.6,836.2 L714.5,835.3 L716.4,834.4 L718.3,833.5 L720.2,832.6 L722.1,831.7 L724.0,830.7 L725.9,829.8 L727.8,828.8 L729.7,827.9 L731.6,826.9 L733.5,825.9 L735.4,824.9 L737.3,823.9 L739.2,822.8 L741.1,821.8 L743.0,820.8 L744.9,819.7 L746.8,818.6 L748.7,817.5 L750.6,816.5 L752.5,815.3 L754.4,814.2 L756.3,813.1 L758.2,812.0 L760.1,810.8 L762.0,809.6 L763.9,808.5 L765.8,807.3 L767.7,806.1 L769.6,804.9 L771.5,803.6 L773.4,802.4 L775.1,801.3 L776.8,800.1 L778.5,799.0 L780.2,797.9 L781.9,796.7 L783.6,795.5 L785.3,794.3 L786.9,793.2 L788.6,792.0 L790.3,790.7 L792.0,789.5 L793.7,788.3 L795.4,787.0 L797.1,785.8 L798.8,784.5 L800.5,783.2 L802.2,781.9 L803.8,780.6 L805.5,779.3 L807.2,777.9 L808.9,776.6 L810.6,775.2 L812.3,773.9 L814.0,772.5 L815.7,771.1 L817.4,769.7 L819.0,768.2 L820.6,766.9 L822.1,765.6 L823.6,764.3 L825.1,763.0 L826.6,761.7 L828.2,760.3 L829.7,758.9 L831.2,757.6 L832.7,756.2 L834.2,754.8 L835.8,753.4 L837.3,751.9 L838.8,750.5 L840.3,749.0 L841.8,747.6 L843.4,746.1 L844.9,744.6 L846.4,743.1 L847.9,741.6 L849.4,740.1 L851.0,738.5 L852.5,737.0 L854.0,735.4 L855.5,733.8 L857.0,732.2 L858.6,730.6 L860.1,729.0 L861.6,727.4 L863.1,725.7 L864.6,724.0 L866.0,722.5 L867.4,720.9 L868.8,719.4 L870.2,717.8 L871.5,716.2 L872.9,714.6 L874.3,713.0 L875.7,711.4 L877.1,709.8 L878.4,708.1 L879.8,706.5 L881.1,704.9 L882.4,703.4 L883.6,701.8 L884.9,700.2 L886.1,698.6 L887.4,697.0 L888.7,695.4 L889.9,693.8 L891.2,692.2 L892.5,690.5 L893.7,688.8 L895.0,687.2 L896.3,685.5 L897.5,683.7 L898.8,682.0 L900.1,680.3 L901.3,678.6 L902.6,676.8 L903.8,675.0 L905.1,673.2 L906.4,671.4 L907.6,669.6 L908.9,667.7 L910.2,665.9 L911.3,664.2 L912.5,662.4 L913.7,660.7 L914.8,658.9 L916.0,657.1 L917.2,655.3 L918.3,653.5 L919.5,651.7 L920.7,649.9 L921.8,648.0 L923.0,646.1 L924.2,644.3 L925.3,642.4 L926.4,640.6 L927.5,638.8 L928.6,637.0 L929.7,635.2 L930.7,633.3 L931.8,631.5 L932.9,629.6 L934.0,627.8 L935.1,625.9 L936.2,624.0 L937.2,622.1 L938.3,620.1 L939.4,618.2 L940.5,616.2 L941.4,614.5 L942.4,612.7 L943.3,611.0 L944.3,609.2 L945.2,607.4 L946.2,605.6 L947.1,603.8 L948.0,602.0 L949.0,600.2 L949.9,598.3 L950.9,596.5 L951.8,594.6 L952.8,592.7 L953.7,590.8 L954.7,588.9 L955.6,586.9 L956.5,585.1 L957.4,583.3 L958.3,581.4 L959.2,579.5 L960.1,577.7 L961.0,575.8 L961.8,573.9 L962.7,572.0 L963.6,570.0 L964.5,568.1 L965.4,566.1 L966.3,564.1 L967.2,562.2 L968.1,560.1 L969.0,558.1 L969.9,556.1 L970.7,554.0 L971.5,552.2 L972.3,550.3 L973.1,548.4 L973.9,546.6 L974.7,544.7 L975.5,542.8 L976.3,540.8 L977.1,538.9 L977.9,537.0 L978.7,535.0 L979.5,533.0 L980.3,531.1 L981.1,529.1 L981.9,527.0 L982.7,525.0 L983.5,523.0 L984.3,520.9 L985.1,518.8 L985.8,516.7 L986.5,514.9 L987.2,513.0 L988.0,511.1 L988.7,509.1 L989.4,507.1 L990.1,505.1 L990.8,503.1 L991.5,501.1 L992.3,499.1 L993.0,497.0 L993.7,495.0 L994.4,493.0 L995.1,491.0 L995.8,489.0 L996.5,487.0 L997.1,485.0 L997.8,483.1 L998.5,481.3 L999.1,479.4 L999.7,477.7 L1000.3,475.9 L1000.9,474.3 L1001.7,471.9 L1002.6,469.6 L1003.3,467.3 L1003.9,465.0 L1004.4,462.8 L1004.9,460.6 L1005.4,458.5 L1005.8,456.4 L1006.3,454.4 L1006.7,452.4 L1007.1,450.5 L1007.5,448.5 L1007.9,446.7 L1008.2,444.8 L1008.6,443.0 L1002.4,441.0 L1001.6,442.6 L1000.8,444.3 L999.9,446.0 L999.1,447.7 L998.2,449.5 L997.3,451.3 L996.4,453.1 L995.5,455.0 L994.5,457.0 L993.6,459.0 L992.6,461.0 L991.6,463.1 L990.8,465.4 L989.9,467.7 L989.1,470.1 L988.5,471.8 L987.9,473.5 L987.3,475.3 L986.6,477.2 L986.0,479.0 L985.3,480.9 L984.7,482.9 L984.0,484.9 L983.3,486.8 L982.6,488.8 L981.9,490.9 L981.2,492.9 L980.5,494.9 L979.8,496.9 L979.0,498.9 L978.3,500.9 L977.6,502.9 L976.9,504.8 L976.2,506.8 L975.5,508.7 L974.8,510.5 L974.2,512.3 L973.4,514.4 L972.6,516.4 L971.8,518.5 L971.0,520.5 L970.2,522.5 L969.5,524.5 L968.7,526.4 L967.9,528.4 L967.1,530.3 L966.3,532.3 L965.5,534.2 L964.7,536.1 L964.0,538.0 L963.2,539.8 L962.4,541.7 L961.6,543.6 L960.8,545.4 L960.0,547.3 L959.3,549.1 L958.4,551.1 L957.5,553.1 L956.6,555.1 L955.8,557.1 L954.9,559.0 L954.0,561.0 L953.1,562.9 L952.3,564.8 L951.4,566.7 L950.5,568.6 L949.6,570.5 L948.8,572.3 L947.9,574.2 L947.0,576.0 L946.1,577.8 L945.3,579.7 L944.4,581.5 L943.5,583.4 L942.5,585.2 L941.6,587.1 L940.7,589.0 L939.7,590.8 L938.8,592.6 L937.9,594.4 L937.0,596.2 L936.0,598.0 L935.1,599.8 L934.2,601.6 L933.2,603.3 L932.3,605.0 L931.4,606.8 L930.4,608.5 L929.5,610.2 L928.5,612.1 L927.4,614.0 L926.3,615.9 L925.3,617.8 L924.2,619.7 L923.2,621.5 L922.1,623.4 L921.0,625.2 L920.0,627.0 L918.9,628.8 L917.8,630.6 L916.8,632.3 L915.7,634.1 L914.7,635.8 L913.5,637.7 L912.4,639.5 L911.2,641.4 L910.1,643.2 L909.0,645.0 L907.8,646.8 L906.7,648.5 L905.5,650.3 L904.4,652.0 L903.3,653.8 L902.1,655.5 L901.0,657.2 L899.8,658.9 L898.6,660.7 L897.4,662.5 L896.1,664.3 L894.9,666.0 L893.7,667.8 L892.4,669.5 L891.2,671.2 L889.9,673.0 L888.7,674.6 L887.5,676.3 L886.2,678.0 L885.0,679.7 L883.8,681.3 L882.5,682.9 L881.3,684.5 L880.1,686.1 L878.8,687.7 L877.6,689.3 L876.4,690.9 L875.1,692.4 L873.9,694.0 L872.6,695.5 L871.4,697.0 L870.2,698.5 L868.8,700.1 L867.5,701.7 L866.1,703.3 L864.8,704.9 L863.4,706.5 L862.1,708.0 L860.8,709.6 L859.4,711.1 L858.1,712.6 L856.7,714.1 L855.4,715.6 L853.9,717.3 L852.4,718.9 L850.9,720.5 L849.4,722.1 L848.0,723.6 L846.5,725.2 L845.0,726.7 L843.5,728.3 L842.0,729.8 L840.6,731.3 L839.1,732.8 L837.6,734.3 L836.1,735.7 L834.6,737.2 L833.2,738.6 L831.7,740.0 L830.2,741.4 L828.7,742.8 L827.2,744.2 L825.8,745.6 L824.3,747.0 L822.8,748.3 L821.3,749.6 L819.8,751.0 L818.4,752.3 L816.9,753.6 L815.4,754.9 L813.9,756.2 L812.4,757.4 L811.0,758.7 L809.3,760.1 L807.7,761.5 L806.0,762.8 L804.4,764.2 L802.7,765.5 L801.1,766.8 L799.4,768.2 L797.8,769.5 L796.2,770.7 L794.5,772.0 L792.9,773.3 L791.2,774.5 L789.6,775.8 L787.9,777.0 L786.3,778.2 L784.7,779.4 L783.0,780.6 L781.4,781.8 L779.7,783.0 L778.1,784.1 L776.4,785.3 L774.8,786.4 L773.1,787.5 L771.5,788.6 L769.9,789.8 L768.2,790.8 L766.6,791.9 L764.7,793.1 L762.9,794.3 L761.0,795.5 L759.2,796.7 L757.3,797.9 L755.5,799.0 L753.6,800.1 L751.8,801.3 L749.9,802.4 L748.1,803.5 L746.2,804.6 L744.4,805.6 L742.5,806.7 L740.7,807.7 L738.8,808.8 L737.0,809.8 L735.1,810.8 L733.3,811.9 L731.4,812.8 L729.6,813.8 L727.7,814.8 L725.9,815.8 L724.0,816.7 L722.2,817.7 L720.3,818.6 L718.5,819.5 L716.6,820.5 L714.8,821.4 L712.9,822.3 L711.1,823.1 L709.2,824.0 L707.4,824.9 L705.5,825.7 L703.7,826.6 L701.8,827.4 L700.0,828.3 L698.1,829.1 L696.3,829.9 L694.4,830.7 L692.5,831.5 L690.7,832.3 L688.8,833.1 L687.0,833.8 L685.1,834.6 L683.3,835.3 L681.4,836.1 L679.6,836.8 L677.7,837.5 L675.9,838.3 L674.0,839.0 L672.2,839.7 L670.3,840.4 L668.5,841.0 L666.6,841.7 L664.8,842.4 L662.9,843.1 L660.8,843.8 L658.7,844.5 L656.6,845.3 L654.4,846.0 L652.3,846.7 L650.2,847.4 L648.1,848.1 L646.0,848.8 L643.8,849.5 L641.7,850.1 L639.6,850.8 L637.5,851.4 L635.4,852.1 L633.2,852.7 L631.1,853.3 L629.0,853.9 L626.9,854.5 L624.8,855.1 L622.6,855.7 L620.5,856.3 L618.4,856.9 L616.3,857.4 L614.1,858.0 L612.0,858.5 L609.9,859.1 L607.8,859.6 L605.7,860.1 L603.5,860.6 L601.4,861.2 L599.3,861.7 L597.2,862.2 L595.0,862.6 L592.9,863.1 L590.8,863.6 L588.7,864.1 L586.5,864.5 L584.4,865.0 L582.3,865.4 L580.2,865.9 L578.0,866.3 L575.9,866.7 L573.8,867.2 L571.7,867.6 L569.5,868.0 L567.4,868.4 L565.3,868.8 L563.2,869.2 L561.0,869.6 L558.9,869.9 L556.8,870.3 L554.7,870.7 L552.5,871.0 L550.4,871.4 L548.3,871.7 L546.2,872.1 L544.0,872.4 L541.9,872.8 L539.8,873.1 L537.6,873.4 L535.5,873.7 L533.4,874.0 L531.3,874.4 L529.1,874.7 L527.0,875.0 L524.9,875.2 L522.7,875.5 L520.6,875.8 L518.5,876.1 L516.4,876.4 L514.2,876.6 L512.1,876.9 L510.0,877.2 L507.8,877.4 L505.7,877.7 L503.6,877.9 L501.4,878.1 L499.3,878.4 L497.2,878.6 L495.1,878.8 L492.9,879.1 L490.8,879.3 L488.7,879.5 L486.5,879.7 L484.4,879.9 L482.3,880.1 L480.1,880.3 L478.0,880.5 L475.9,880.7 L473.8,880.9 L471.6,881.0 L469.5,881.2 L467.3,881.4 L465.2,881.6 L463.0,881.8 L460.9,882.0 L458.9,882.1 L456.8,882.2 L454.7,882.3 L452.6,882.4 L450.3,882.5 L448.1,882.6 L445.9,882.6 L444.0,882.6 L442.3,882.5 L441.1,882.3 L439.3,881.9 L438.1,881.5 L436.8,881.0 L435.3,880.3 L433.8,879.5 L432.6,878.7 L431.3,877.7 L429.9,876.2 L428.8,875.0 L427.6,873.7 L426.5,872.2 L425.3,870.6 L424.2,868.7 L423.0,866.6 Z" fill="#f00"/>
<line x1="372.8" y1="2018.2" x2="372.8" y2="2009.2" stroke="#000" stroke-width="3"/>
<line x1="372.8" y1="1098" x2="372.8" y2="1107" stroke="#000" stroke-width="3"/>
<line x1="486.1" y1="2018.2" x2="486.1" y2="2000.2" stroke="#000" stroke-width="3"/>
<line x1="486.1" y1="1098" x2="486.1" y2="1116" stroke="#000" stroke-width="3"/>
<line x1="599.4" y1="2018.2" x2="599.4" y2="2009.2" stroke="#000" stroke-width="3"/>
<line x1="599.4" y1="1098" x2="599.4" y2="1107" stroke="#000" stroke-width="3"/>
<line x1="712.7" y1="2018.2" x2="712.7" y2="2000.2" stroke="#000" stroke-width="3"/>
<line x1="712.7" y1="1098" x2="712.7" y2="1116" stroke="#000" stroke-width="3"/>
<line x1="826.0" y1="2018.2" x2="826.0" y2="2009.2" stroke="#000" stroke-width="3"/>
<line x1="826.0" y1="1098" x2="826.0" y2="1107" stroke="#000" stroke-width="3"/>
<line x1="939.3" y1="2018.2" x2="939.3" y2="2000.2" stroke="#000" stroke-width="3"/>
<line x1="939.3" y1="1098" x2="939.3" y2="1116" stroke="#000" stroke-width="3"/>
<line x1="1052.6" y1="2018.2" x2="1052.6" y2="2009.2" stroke="#000" stroke-width="3"/>
<line x1="1052.6" y1="1098" x2="1052.6" y2="1107" stroke="#000" stroke-width="3"/>
<line x1="1165.9" y1="2018.2" x2="1165.9" y2="2000.2" stroke="#000" stroke-width="3"/>
<line x1="1165.9" y1="1098" x2="1165.9" y2="1116" stroke="#000" stroke-width="3"/>
<line x1="1279.2" y1="2018.2" x2="1279.2" y2="2009.2" stroke="#000" stroke-width="3"/>
<line x1="1279.2" y1="1098" x2="1279.2" y2="1107" stroke="#000" stroke-width="3"/>
<line x1="259" y1="1900.2" x2="268" y2="1900.2" stroke="#000" stroke-width="3"/>
<line x1="1392.5" y1="1900.2" x2="1383.5" y2="1900.2" stroke="#000" stroke-width="3"/>
<line x1="259" y1="1782.2" x2="277" y2="1782.2" stroke="#000" stroke-width="3"/>
<line x1="1392.5" y1="1782.2" x2="1374.5" y2="1782.2" stroke="#000" stroke-width="3"/>
<line x1="259" y1="1664.2" x2="268" y2="1664.2" stroke="#000" stroke-width="3"/>
<line x1="1392.5" y1="1664.2" x2="1383.5" y2="1664.2" stroke="#000" stroke-width="3"/>
<line x1="259" y1="1546.2" x2="277" y2="1546.2" stroke="#000" stroke-width="3"/>
<line x1="1392.5" y1="1546.2" x2="1374.5" y2="1546.2" stroke="#000" stroke-width="3"/>
<line x1="259" y1="1428.2" x2="268" y2="1428.2" stroke="#000" stroke-width="3"/>
<line x1="1392.5" y1="1428.2" x2="1383.5" y2="1428.2" stroke="#000" stroke-width="3"/>
<line x1="259" y1="1310.2" x2="277" y2="1310.2" stroke="#000" stroke-width="3"/>
<line x1="1392.5" y1="1310.2" x2="1374.5" y2="1310.2" stroke="#000" stroke-width="3"/>
<line x1="259" y1="1192.2" x2="268" y2="1192.2" stroke="#000" stroke-width="3"/>
<line x1="1392.5" y1="1192.2" x2="1383.5" y2="1192.2" stroke="#000" stroke-width="3"/>
<rect x="257.5" y="1096" width="3" height="924" fill="#111"/>
<rect x="1390.5" y="1096" width="4" height="924" fill="#000"/>
<rect x="257.5" y="1096" width="1137" height="4" fill="#333"/>
<rect x="257.5" y="2016.5" width="1137" height="3" fill="#111"/>
<path d="M259.00,2017.50 C273.33,2017.50 330.67,2017.50 345.00,2017.50 C345.25,2014.58 346.00,2011.25 346.50,2000.00 C347.00,1988.75 347.50,1966.67 348.00,1950.00 C348.50,1933.33 349.00,1916.67 349.50,1900.00 C350.00,1883.33 350.50,1864.17 351.00,1850.00 C351.50,1835.83 351.83,1825.00 352.50,1815.00 C353.17,1805.00 354.08,1797.17 355.00,1790.00 C355.92,1782.83 356.83,1776.67 358.00,1772.00 C359.17,1767.33 360.50,1764.58 362.00,1762.00 C363.50,1759.42 365.33,1757.67 367.00,1756.50 C368.67,1755.33 370.33,1754.75 372.00,1755.00 C373.67,1755.25 375.33,1756.17 377.00,1758.00 C378.67,1759.83 380.33,1762.00 382.00,1766.00 C383.67,1770.00 385.50,1776.33 387.00,1782.00 C388.50,1787.67 389.50,1793.67 391.00,1800.00 C392.50,1806.33 394.42,1813.00 396.00,1820.00 C397.58,1827.00 399.00,1834.67 400.50,1842.00 C402.00,1849.33 403.33,1856.67 405.00,1864.00 C406.67,1871.33 408.50,1878.67 410.50,1886.00 C412.50,1893.33 414.75,1900.83 417.00,1908.00 C419.25,1915.17 421.67,1922.33 424.00,1929.00 C426.33,1935.67 428.33,1942.83 431.00,1948.00 C433.67,1953.17 436.00,1956.75 440.00,1960.00 C444.00,1963.25 448.58,1966.00 455.00,1967.50 C461.42,1969.00 470.93,1969.32 478.50,1969.00 C486.07,1968.68 493.10,1967.10 500.40,1965.60 C507.70,1964.10 515.03,1962.10 522.30,1960.00 C529.57,1957.90 538.38,1954.92 544.00,1953.00 C549.62,1951.08 552.38,1949.75 556.00,1948.50 C559.62,1947.25 563.03,1945.67 565.70,1945.50 C568.37,1945.33 570.20,1946.48 572.00,1947.50 C573.80,1948.52 575.25,1949.68 576.50,1951.60 C577.75,1953.52 578.50,1956.35 579.50,1959.00 C580.50,1961.65 581.50,1964.33 582.50,1967.50 C583.50,1970.67 584.50,1974.42 585.50,1978.00 C586.50,1981.58 587.50,1985.50 588.50,1989.00 C589.50,1992.50 590.42,1995.92 591.50,1999.00 C592.58,2002.08 593.75,2005.17 595.00,2007.50 C596.25,2009.83 597.58,2011.53 599.00,2013.00 C600.42,2014.47 601.83,2015.55 603.50,2016.30 C605.17,2017.05 608.08,2017.30 609.00,2017.50 C739.58,2017.50 1261.92,2017.50 1392.50,2017.50" fill="none" stroke="#000" stroke-width="5.5" stroke-linejoin="round" stroke-linecap="round" />
<path d="M438.3,1962.2 L439.8,1963.5 L441.5,1964.8 L443.3,1966.0 L445.2,1967.1 L447.2,1968.2 L449.4,1969.2 L451.7,1970.1 L454.2,1970.8 L456.2,1971.3 L458.3,1971.7 L460.4,1972.1 L462.7,1972.4 L464.9,1972.7 L467.3,1972.9 L469.6,1973.1 L471.9,1973.1 L474.2,1973.1 L476.5,1973.1 L478.7,1973.0 L480.8,1972.9 L483.0,1972.7 L485.1,1972.5 L487.2,1972.2 L489.2,1971.9 L491.2,1971.5 L493.3,1971.1 L495.3,1970.7 L497.2,1970.3 L499.2,1969.9 L501.2,1969.5 L503.2,1969.1 L505.3,1968.6 L507.3,1968.2 L509.3,1967.7 L511.4,1967.2 L513.4,1966.6 L515.4,1966.1 L517.4,1965.5 L519.4,1965.0 L521.4,1964.4 L523.4,1963.8 L525.5,1963.2 L527.6,1962.6 L529.7,1961.9 L531.8,1961.3 L534.0,1960.6 L536.1,1959.9 L538.1,1959.2 L540.1,1958.6 L541.9,1957.9 L543.7,1957.3 L545.3,1956.8 L548.0,1955.8 L550.2,1955.0 L552.2,1954.1 L553.9,1953.4 L555.6,1952.6 L557.2,1951.9 L559.4,1951.1 L561.4,1950.2 L563.2,1949.5 L564.7,1949.0 L565.7,1948.7 L567.4,1948.8 L568.9,1949.3 L570.5,1950.1 L571.9,1950.9 L573.1,1951.8 L574.3,1953.3 L578.7,1949.9 L577.2,1948.0 L575.5,1946.3 L573.5,1944.9 L571.4,1943.7 L568.8,1942.6 L565.7,1942.3 L563.3,1942.5 L561.2,1943.0 L559.0,1943.7 L556.9,1944.4 L554.8,1945.1 L552.9,1945.6 L551.1,1946.2 L549.3,1946.9 L547.4,1947.5 L545.2,1948.3 L542.7,1949.2 L541.1,1949.8 L539.4,1950.4 L537.5,1951.0 L535.6,1951.6 L533.6,1952.3 L531.5,1953.0 L529.4,1953.6 L527.3,1954.3 L525.2,1955.0 L523.2,1955.6 L521.2,1956.2 L519.2,1956.7 L517.2,1957.3 L515.3,1957.8 L513.3,1958.4 L511.3,1958.9 L509.4,1959.4 L507.4,1959.9 L505.5,1960.4 L503.5,1960.8 L501.5,1961.3 L499.6,1961.7 L497.6,1962.1 L495.6,1962.5 L493.7,1962.9 L491.8,1963.3 L489.8,1963.6 L487.9,1964.0 L486.0,1964.3 L484.1,1964.5 L482.2,1964.7 L480.3,1964.9 L478.3,1965.0 L476.3,1965.1 L474.2,1965.1 L472.0,1965.1 L469.8,1965.1 L467.6,1965.1 L465.4,1965.0 L463.3,1965.0 L461.3,1964.8 L459.3,1964.7 L457.5,1964.4 L455.8,1964.2 L453.6,1963.7 L451.6,1963.1 L449.8,1962.4 L448.0,1961.7 L446.4,1960.8 L444.8,1959.9 L443.2,1958.9 L441.7,1957.8 Z" fill="#000"/>
<path d="M259.00,2017.50 C274.58,2017.50 336.92,2017.50 352.50,2017.50 C352.62,2012.92 352.98,2009.58 353.20,1990.00 C353.42,1970.42 353.58,1923.33 353.80,1900.00 C354.02,1876.67 354.13,1865.83 354.50,1850.00 C354.87,1834.17 355.25,1816.83 356.00,1805.00 C356.75,1793.17 357.83,1785.83 359.00,1779.00 C360.17,1772.17 361.67,1767.58 363.00,1764.00 C364.33,1760.42 365.58,1758.83 367.00,1757.50 C368.42,1756.17 370.08,1755.75 371.50,1756.00 C372.92,1756.25 374.25,1757.17 375.50,1759.00 C376.75,1760.83 377.75,1763.17 379.00,1767.00 C380.25,1770.83 381.83,1776.83 383.00,1782.00 C384.17,1787.17 384.92,1791.67 386.00,1798.00 C387.08,1804.33 388.23,1812.67 389.50,1820.00 C390.77,1827.33 392.28,1834.67 393.60,1842.00 C394.92,1849.33 396.00,1856.67 397.40,1864.00 C398.80,1871.33 400.15,1878.67 402.00,1886.00 C403.85,1893.33 406.33,1900.83 408.50,1908.00 C410.67,1915.17 412.75,1922.17 415.00,1929.00 C417.25,1935.83 419.17,1943.33 422.00,1949.00 C424.83,1954.67 428.17,1959.33 432.00,1963.00 C435.83,1966.67 439.17,1968.83 445.00,1971.00 C450.83,1973.17 457.83,1975.17 467.00,1976.00 C476.17,1976.83 489.00,1976.33 500.00,1976.00 C511.00,1975.67 522.67,1975.58 533.00,1974.00 C543.33,1972.42 552.92,1969.17 562.00,1966.50 C571.08,1963.83 579.72,1960.42 587.50,1958.00 C595.28,1955.58 601.45,1954.08 608.70,1952.00 C615.95,1949.92 623.28,1947.83 631.00,1945.50 C638.72,1943.17 646.83,1940.92 655.00,1938.00 C663.17,1935.08 672.18,1931.57 680.00,1928.00 C687.82,1924.43 694.60,1921.05 701.90,1916.60 C709.20,1912.15 717.95,1906.07 723.80,1901.30 C729.65,1896.53 733.35,1892.20 737.00,1888.00 C740.65,1883.80 742.43,1880.82 745.70,1876.10 C748.97,1871.38 753.32,1864.98 756.60,1859.70 C759.88,1854.42 763.37,1848.43 765.40,1844.40 C767.43,1840.37 767.70,1836.23 768.80,1835.50 C769.90,1834.77 770.93,1835.60 772.00,1840.00 C773.07,1844.40 774.48,1854.60 775.20,1861.90 C775.92,1869.20 775.75,1876.50 776.30,1883.80 C776.85,1891.10 777.77,1898.40 778.50,1905.70 C779.23,1913.00 779.97,1920.32 780.70,1927.60 C781.43,1934.88 781.90,1939.10 782.90,1949.40 C783.90,1959.70 785.68,1979.63 786.70,1989.40 C787.72,1999.17 788.20,2003.65 789.00,2008.00 C789.80,2012.35 790.50,2013.92 791.50,2015.50 C792.50,2017.08 794.42,2017.17 795.00,2017.50 C894.58,2017.50 1292.92,2017.50 1392.50,2017.50" fill="none" stroke="#f00" stroke-width="6" stroke-linejoin="round" stroke-linecap="round" />
<path d="M430.0,1965.2 L431.6,1966.8 L433.3,1968.3 L435.1,1969.7 L437.0,1970.9 L439.1,1972.1 L441.3,1973.2 L443.8,1974.2 L445.5,1974.9 L447.2,1975.6 L449.0,1976.2 L450.9,1976.8 L452.8,1977.4 L454.9,1978.0 L457.0,1978.5 L459.3,1979.0 L461.6,1979.4 L464.1,1979.7 L466.6,1980.0 L468.5,1980.1 L470.4,1980.2 L472.4,1980.3 L474.4,1980.4 L476.4,1980.4 L478.6,1980.5 L480.7,1980.5 L482.9,1980.4 L485.0,1980.4 L487.2,1980.4 L489.4,1980.3 L491.6,1980.3 L493.8,1980.2 L495.9,1980.1 L498.0,1980.1 L500.1,1980.0 L502.2,1979.9 L504.3,1979.9 L506.4,1979.8 L508.5,1979.8 L510.6,1979.7 L512.7,1979.6 L514.8,1979.6 L516.9,1979.5 L519.1,1979.4 L521.2,1979.2 L523.3,1979.1 L525.4,1978.9 L527.5,1978.7 L529.5,1978.5 L531.6,1978.2 L533.6,1978.0 L535.9,1977.6 L538.2,1977.1 L540.4,1976.7 L542.6,1976.2 L544.8,1975.6 L546.9,1975.1 L549.0,1974.5 L551.1,1973.9 L553.2,1973.3 L555.2,1972.7 L557.2,1972.1 L559.2,1971.5 L561.2,1970.9 L563.1,1970.3 L565.3,1969.7 L567.4,1969.0 L569.5,1968.4 L571.5,1967.7 L573.6,1967.0 L575.6,1966.3 L577.5,1965.6 L579.5,1964.9 L581.4,1964.2 L583.3,1963.6 L585.1,1963.0 L586.9,1962.4 L588.7,1961.8 L590.7,1961.2 L592.7,1960.6 L594.7,1960.0 L596.6,1959.5 L598.4,1959.0 L600.3,1958.5 L602.1,1958.0 L604.0,1957.5 L605.9,1956.9 L607.8,1956.4 L609.8,1955.8 L611.8,1955.3 L613.8,1954.7 L615.8,1954.1 L617.8,1953.6 L619.8,1953.0 L621.8,1952.4 L623.8,1951.8 L625.9,1951.2 L628.0,1950.6 L630.1,1950.0 L632.2,1949.3 L634.1,1948.8 L636.0,1948.2 L638.0,1947.6 L640.0,1947.0 L642.0,1946.4 L644.0,1945.8 L646.0,1945.2 L648.1,1944.5 L650.1,1943.9 L652.2,1943.2 L654.3,1942.5 L656.3,1941.8 L658.3,1941.1 L660.2,1940.4 L662.2,1939.6 L664.1,1938.9 L666.1,1938.1 L668.1,1937.4 L670.1,1936.6 L672.1,1935.8 L674.0,1935.0 L676.0,1934.1 L677.9,1933.3 L679.8,1932.5 L681.7,1931.6 L683.6,1930.7 L685.5,1929.8 L687.4,1928.9 L689.3,1928.0 L691.1,1927.1 L693.0,1926.2 L694.8,1925.2 L696.6,1924.3 L698.5,1923.2 L700.3,1922.2 L702.1,1921.1 L704.0,1920.0 L705.7,1918.9 L707.5,1917.8 L709.3,1916.6 L711.1,1915.4 L713.0,1914.2 L714.8,1913.0 L716.6,1911.7 L718.3,1910.5 L720.1,1909.2 L721.7,1908.0 L723.3,1906.8 L724.9,1905.6 L726.3,1904.4 L728.3,1902.8 L730.1,1901.1 L731.7,1899.4 L733.2,1897.8 L734.6,1896.3 L736.0,1894.7 L737.2,1893.2 L738.4,1891.7 L739.6,1890.3 L741.1,1888.4 L742.4,1886.7 L743.6,1885.0 L744.7,1883.3 L745.8,1881.6 L746.9,1879.8 L748.2,1877.8 L743.2,1874.4 L741.8,1876.3 L740.6,1878.0 L739.4,1879.6 L738.3,1881.1 L737.1,1882.6 L735.8,1884.1 L734.4,1885.7 L733.1,1887.1 L731.8,1888.4 L730.5,1889.8 L729.2,1891.1 L727.8,1892.5 L726.3,1893.9 L724.7,1895.3 L723.1,1896.7 L721.3,1898.2 L719.9,1899.3 L718.5,1900.4 L716.9,1901.6 L715.3,1902.8 L713.7,1904.0 L712.0,1905.2 L710.2,1906.4 L708.5,1907.6 L706.7,1908.8 L704.9,1909.9 L703.2,1911.1 L701.5,1912.2 L699.8,1913.2 L698.0,1914.2 L696.3,1915.3 L694.5,1916.3 L692.8,1917.2 L691.1,1918.2 L689.3,1919.1 L687.5,1920.0 L685.8,1920.9 L684.0,1921.7 L682.1,1922.6 L680.3,1923.5 L678.3,1924.4 L676.5,1925.2 L674.7,1926.0 L672.9,1926.8 L671.0,1927.6 L669.1,1928.4 L667.1,1929.1 L665.2,1929.9 L663.2,1930.7 L661.3,1931.4 L659.4,1932.1 L657.4,1932.9 L655.5,1933.6 L653.7,1934.2 L651.7,1934.9 L649.7,1935.6 L647.7,1936.3 L645.7,1936.9 L643.7,1937.5 L641.7,1938.1 L639.7,1938.7 L637.7,1939.3 L635.7,1939.9 L633.8,1940.5 L631.8,1941.1 L629.8,1941.7 L627.8,1942.3 L625.7,1942.9 L623.6,1943.5 L621.6,1944.1 L619.6,1944.7 L617.6,1945.3 L615.5,1945.9 L613.6,1946.4 L611.6,1947.0 L609.6,1947.6 L607.6,1948.2 L605.7,1948.7 L603.8,1949.2 L601.9,1949.7 L600.0,1950.3 L598.2,1950.8 L596.3,1951.3 L594.4,1951.8 L592.5,1952.4 L590.5,1952.9 L588.4,1953.5 L586.3,1954.2 L584.5,1954.8 L582.6,1955.4 L580.7,1956.0 L578.8,1956.7 L576.8,1957.4 L574.9,1958.0 L572.9,1958.7 L571.0,1959.4 L569.0,1960.1 L567.0,1960.8 L564.9,1961.4 L562.9,1962.0 L560.9,1962.7 L558.9,1963.2 L556.9,1963.8 L554.9,1964.4 L552.9,1965.0 L550.9,1965.6 L548.9,1966.2 L546.9,1966.8 L544.9,1967.4 L542.8,1967.9 L540.8,1968.4 L538.7,1968.9 L536.6,1969.3 L534.5,1969.7 L532.4,1970.0 L530.5,1970.3 L528.6,1970.6 L526.7,1970.8 L524.7,1970.9 L522.7,1971.1 L520.7,1971.2 L518.6,1971.4 L516.6,1971.5 L514.5,1971.6 L512.4,1971.6 L510.3,1971.7 L508.2,1971.8 L506.1,1971.8 L504.0,1971.9 L502.0,1971.9 L499.9,1972.0 L497.8,1972.1 L495.7,1972.1 L493.5,1972.2 L491.4,1972.3 L489.2,1972.3 L487.1,1972.4 L484.9,1972.4 L482.8,1972.4 L480.7,1972.5 L478.6,1972.5 L476.6,1972.4 L474.6,1972.4 L472.7,1972.3 L470.8,1972.3 L469.0,1972.2 L467.4,1972.0 L465.0,1971.8 L462.8,1971.5 L460.6,1971.1 L458.6,1970.8 L456.6,1970.5 L454.7,1970.1 L452.9,1969.7 L451.1,1969.2 L449.4,1968.7 L447.8,1968.3 L446.2,1967.8 L444.0,1966.9 L442.0,1966.1 L440.3,1965.3 L438.7,1964.3 L437.1,1963.3 L435.6,1962.2 L434.0,1960.8 Z" fill="#f00"/>
<path d="M259.00,2017.50 C275.75,2017.50 342.75,2017.50 359.50,2017.50 C359.72,2013.75 360.47,2014.58 360.80,1995.00 C361.13,1975.42 361.30,1923.67 361.50,1900.00 C361.70,1876.33 361.67,1868.00 362.00,1853.00 C362.33,1838.00 362.92,1821.17 363.50,1810.00 C364.08,1798.83 364.70,1792.50 365.50,1786.00 C366.30,1779.50 367.22,1775.50 368.30,1771.00 C369.38,1766.50 370.55,1761.92 372.00,1759.00 C373.45,1756.08 375.33,1752.33 377.00,1753.50 C378.67,1754.67 380.50,1761.25 382.00,1766.00 C383.50,1770.75 384.67,1776.33 386.00,1782.00 C387.33,1787.67 388.63,1793.67 390.00,1800.00 C391.37,1806.33 392.77,1813.00 394.20,1820.00 C395.63,1827.00 397.23,1834.67 398.60,1842.00 C399.97,1849.33 400.93,1856.67 402.40,1864.00 C403.87,1871.33 405.48,1878.67 407.40,1886.00 C409.32,1893.33 411.72,1900.77 413.90,1908.00 C416.08,1915.23 418.12,1922.23 420.50,1929.40 C422.88,1936.57 425.62,1945.57 428.20,1951.00 C430.78,1956.43 433.03,1958.79 436.00,1962.00 C438.97,1965.21 442.33,1968.40 446.00,1970.28 C449.67,1972.16 454.00,1972.50 458.00,1973.29 C462.00,1974.08 466.00,1974.60 470.00,1975.03 C474.00,1975.45 478.00,1975.68 482.00,1975.82 C486.00,1975.97 490.00,1975.96 494.00,1975.89 C498.00,1975.81 502.00,1975.63 506.00,1975.37 C510.00,1975.12 514.00,1974.78 518.00,1974.38 C522.00,1973.99 526.00,1973.51 530.00,1972.99 C534.00,1972.47 538.00,1971.88 542.00,1971.26 C546.00,1970.63 550.00,1969.94 554.00,1969.22 C558.00,1968.50 562.00,1967.73 566.00,1966.93 C570.00,1966.12 574.00,1965.28 578.00,1964.40 C582.00,1963.52 586.00,1962.60 590.00,1961.65 C594.00,1960.70 598.00,1959.72 602.00,1958.71 C606.00,1957.70 610.00,1956.65 614.00,1955.58 C618.00,1954.50 622.00,1953.40 626.00,1952.26 C630.00,1951.12 634.00,1949.95 638.00,1948.75 C642.00,1947.55 646.00,1946.31 650.00,1945.04 C654.00,1943.77 658.00,1942.46 662.00,1941.11 C666.00,1939.76 670.00,1938.38 674.00,1936.95 C678.00,1935.51 682.00,1934.04 686.00,1932.51 C690.00,1930.99 694.00,1929.42 698.00,1927.78 C702.00,1926.15 706.00,1924.46 710.00,1922.71 C714.00,1920.95 718.00,1919.14 722.00,1917.25 C726.00,1915.36 730.00,1913.40 734.00,1911.36 C738.00,1909.31 742.00,1907.20 746.00,1904.98 C750.00,1902.77 754.00,1900.47 758.00,1898.06 C762.00,1895.66 766.00,1893.16 770.00,1890.55 C774.00,1887.93 778.00,1885.22 782.00,1882.37 C786.00,1879.52 790.00,1876.57 794.00,1873.47 C798.00,1870.37 802.00,1867.16 806.00,1863.79 C810.00,1860.42 814.00,1856.93 818.00,1853.27 C822.00,1849.61 826.00,1845.81 830.00,1841.84 C834.00,1837.87 838.00,1833.75 842.00,1829.45 C846.00,1825.14 850.00,1820.68 854.00,1816.03 C858.00,1811.38 862.00,1806.56 866.00,1801.53 C870.00,1796.51 874.00,1791.31 878.00,1785.89 C882.00,1780.48 886.00,1774.87 890.00,1769.03 C894.00,1763.20 898.00,1757.16 902.00,1750.87 C906.00,1744.59 910.00,1738.09 914.00,1731.30 C918.00,1724.51 922.00,1717.50 926.00,1710.16 C930.00,1702.82 934.00,1695.23 938.00,1687.24 C942.00,1679.25 946.00,1670.99 950.00,1662.24 C954.00,1653.49 958.00,1644.42 962.00,1634.73 C966.00,1625.04 970.00,1614.98 974.00,1604.11 C978.00,1593.24 982.74,1579.37 986.00,1569.52 C989.26,1559.67 991.54,1551.59 993.58,1545.00 C995.63,1538.41 996.79,1535.00 998.27,1530.00 C999.76,1525.00 1001.15,1520.00 1002.47,1515.00 C1003.79,1510.00 1005.03,1505.00 1006.20,1500.00 C1007.37,1495.00 1008.47,1490.00 1009.50,1485.00 C1010.53,1480.00 1011.49,1475.00 1012.39,1470.00 C1013.30,1465.00 1014.13,1460.00 1014.91,1455.00 C1015.70,1450.00 1016.42,1445.00 1017.09,1440.00 C1017.77,1435.00 1018.38,1430.00 1018.96,1425.00 C1019.53,1420.00 1020.05,1415.00 1020.54,1410.00 C1021.03,1405.00 1021.47,1400.00 1021.87,1395.00 C1022.28,1390.00 1022.64,1385.00 1022.98,1380.00 C1023.32,1375.00 1023.62,1370.00 1023.90,1365.00 C1024.18,1360.00 1024.43,1355.00 1024.66,1350.00 C1024.90,1345.00 1025.10,1340.00 1025.29,1335.00 C1025.49,1330.00 1025.66,1325.00 1025.83,1320.00 C1025.99,1315.00 1026.14,1310.00 1026.29,1305.00 C1026.43,1300.00 1026.57,1295.00 1026.71,1290.00 C1026.85,1285.00 1026.98,1280.00 1027.13,1275.00 C1027.27,1270.00 1027.41,1265.00 1027.57,1260.00 C1027.72,1255.00 1027.88,1250.00 1028.06,1245.00 C1028.23,1240.00 1028.42,1235.00 1028.63,1230.00 C1028.84,1225.00 1029.07,1220.00 1029.32,1215.00 C1029.57,1210.00 1029.85,1205.00 1030.15,1200.00 C1030.46,1195.00 1030.60,1191.17 1031.16,1185.00 C1031.72,1178.83 1032.81,1165.17 1033.50,1163.00 C1034.19,1160.83 1034.88,1157.50 1035.30,1172.00 C1035.72,1186.50 1035.78,1225.33 1036.00,1250.00 C1036.22,1274.67 1036.38,1291.67 1036.60,1320.00 C1036.82,1348.33 1037.03,1390.00 1037.30,1420.00 C1037.57,1450.00 1037.87,1470.00 1038.20,1500.00 C1038.53,1530.00 1039.00,1550.00 1039.30,1600.00 C1039.60,1650.00 1039.75,1750.00 1040.00,1800.00 C1040.25,1850.00 1040.50,1868.33 1040.80,1900.00 C1041.10,1931.67 1041.10,1970.42 1041.80,1990.00 C1042.50,2009.58 1044.47,2012.92 1045.00,2017.50 C1102.92,2017.50 1334.58,2017.50 1392.50,2017.50" fill="none" stroke="#00f" stroke-width="6.5" stroke-linejoin="round" stroke-linecap="round" />
<path d="M425.3,1952.5 L426.5,1955.1 L427.8,1957.4 L429.1,1959.5 L430.4,1961.3 L431.7,1963.0 L433.1,1964.7 L434.6,1966.4 L436.2,1968.2 L438.0,1969.9 L439.8,1971.5 L441.8,1973.0 L443.9,1974.4 L446.2,1975.5 L448.6,1976.4 L450.9,1977.0 L453.0,1977.5 L455.1,1978.0 L457.0,1978.5 L459.1,1979.0 L461.1,1979.4 L463.2,1979.7 L465.3,1980.0 L467.4,1980.3 L469.4,1980.5 L471.5,1980.7 L473.6,1980.9 L475.6,1981.0 L477.7,1981.1 L479.8,1981.2 L481.8,1981.3 L483.9,1981.4 L485.9,1981.4 L488.0,1981.4 L490.0,1981.4 L492.1,1981.4 L494.1,1981.4 L496.2,1981.3 L498.2,1981.3 L500.2,1981.2 L502.3,1981.1 L504.3,1981.0 L506.3,1980.9 L508.4,1980.7 L510.4,1980.6 L512.5,1980.4 L514.5,1980.2 L516.5,1980.1 L518.5,1979.9 L520.6,1979.6 L522.6,1979.4 L524.6,1979.2 L526.7,1979.0 L528.7,1978.7 L530.7,1978.4 L532.7,1978.2 L534.8,1977.9 L536.8,1977.6 L538.8,1977.3 L540.8,1977.0 L542.9,1976.7 L544.9,1976.4 L546.9,1976.0 L548.9,1975.7 L550.9,1975.4 L553.0,1975.0 L555.0,1974.6 L557.0,1974.3 L559.0,1973.9 L561.0,1973.5 L563.1,1973.1 L565.1,1972.7 L567.1,1972.3 L569.1,1971.9 L571.1,1971.5 L573.1,1971.1 L575.2,1970.6 L577.2,1970.2 L579.2,1969.8 L581.2,1969.3 L583.2,1968.9 L585.2,1968.4 L587.2,1967.9 L589.3,1967.5 L591.3,1967.0 L593.3,1966.5 L595.3,1966.0 L597.3,1965.5 L599.3,1965.1 L601.3,1964.5 L603.3,1964.0 L605.4,1963.5 L607.4,1963.0 L609.4,1962.5 L611.4,1962.0 L613.4,1961.4 L615.4,1960.9 L617.4,1960.3 L619.5,1959.8 L621.5,1959.2 L623.5,1958.7 L625.5,1958.1 L627.5,1957.5 L629.5,1957.0 L631.5,1956.4 L633.5,1955.8 L635.6,1955.2 L637.6,1954.6 L639.6,1954.0 L641.6,1953.4 L643.6,1952.8 L645.6,1952.2 L647.6,1951.5 L649.7,1950.9 L651.7,1950.3 L653.7,1949.6 L655.7,1949.0 L657.7,1948.3 L659.7,1947.7 L661.7,1947.0 L663.8,1946.3 L665.8,1945.6 L667.8,1945.0 L669.8,1944.3 L671.8,1943.6 L673.8,1942.8 L675.9,1942.1 L677.9,1941.4 L679.9,1940.7 L681.9,1939.9 L683.9,1939.2 L685.9,1938.4 L688.0,1937.7 L690.0,1936.9 L692.0,1936.1 L694.0,1935.3 L696.0,1934.5 L698.1,1933.7 L700.1,1932.9 L702.1,1932.0 L704.1,1931.2 L706.1,1930.4 L708.2,1929.5 L710.2,1928.6 L712.2,1927.7 L714.2,1926.9 L716.3,1926.0 L718.3,1925.0 L720.3,1924.1 L722.3,1923.2 L724.4,1922.2 L726.4,1921.3 L728.4,1920.3 L730.4,1919.3 L732.4,1918.3 L734.5,1917.3 L736.5,1916.3 L738.5,1915.2 L740.6,1914.2 L742.6,1913.1 L744.6,1912.0 L746.6,1910.9 L748.7,1909.8 L750.7,1908.7 L752.7,1907.5 L754.7,1906.4 L756.8,1905.2 L758.8,1904.0 L760.8,1902.8 L762.6,1901.7 L764.3,1900.7 L766.0,1899.6 L767.8,1898.5 L769.5,1897.4 L771.3,1896.3 L773.0,1895.2 L774.7,1894.0 L776.5,1892.9 L778.2,1891.7 L780.0,1890.5 L781.7,1889.3 L783.4,1888.1 L785.2,1886.9 L786.9,1885.6 L788.7,1884.3 L790.4,1883.1 L792.1,1881.8 L793.9,1880.5 L795.6,1879.2 L797.4,1877.8 L799.1,1876.5 L800.8,1875.1 L802.6,1873.7 L804.3,1872.3 L806.1,1870.9 L807.8,1869.5 L809.5,1868.0 L811.3,1866.5 L813.0,1865.0 L814.8,1863.5 L816.5,1862.0 L818.2,1860.5 L820.0,1858.9 L821.7,1857.3 L823.2,1855.9 L824.8,1854.5 L826.3,1853.1 L827.8,1851.7 L829.3,1850.2 L830.8,1848.7 L832.4,1847.2 L833.9,1845.7 L835.4,1844.2 L836.9,1842.7 L838.4,1841.2 L840.0,1839.6 L841.5,1838.0 L843.0,1836.4 L844.5,1834.8 L846.0,1833.2 L847.5,1831.6 L849.1,1829.9 L850.6,1828.2 L852.1,1826.5 L853.6,1824.8 L855.1,1823.1 L856.7,1821.4 L858.2,1819.6 L859.5,1818.0 L860.9,1816.5 L862.2,1814.9 L863.6,1813.2 L864.9,1811.6 L866.3,1810.0 L867.6,1808.3 L869.0,1806.6 L870.3,1805.0 L871.6,1803.3 L873.0,1801.6 L874.3,1799.8 L875.7,1798.1 L877.0,1796.3 L878.4,1794.6 L879.7,1792.8 L881.1,1791.0 L882.4,1789.2 L883.6,1787.5 L884.8,1785.9 L886.1,1784.2 L887.3,1782.5 L888.5,1780.8 L889.7,1779.1 L890.9,1777.4 L892.1,1775.7 L893.3,1773.9 L894.5,1772.1 L895.7,1770.4 L897.0,1768.6 L898.2,1766.8 L899.4,1765.0 L900.6,1763.2 L901.8,1761.3 L903.0,1759.5 L904.2,1757.6 L905.4,1755.7 L906.6,1753.8 L907.7,1752.1 L908.8,1750.3 L909.9,1748.6 L911.0,1746.8 L912.1,1745.0 L913.2,1743.3 L914.3,1741.4 L915.4,1739.6 L916.5,1737.8 L917.6,1736.0 L918.7,1734.1 L919.7,1732.4 L920.8,1730.7 L921.8,1728.9 L922.8,1727.2 L923.8,1725.4 L924.8,1723.7 L925.8,1721.9 L926.8,1720.1 L927.8,1718.3 L928.8,1716.5 L929.8,1714.6 L930.8,1712.8 L931.8,1710.9 L932.8,1709.1 L933.8,1707.2 L934.9,1705.3 L935.9,1703.4 L936.9,1701.5 L937.9,1699.6 L938.9,1697.6 L939.9,1695.7 L940.9,1693.7 L941.9,1691.7 L942.9,1689.7 L943.8,1687.8 L944.8,1686.0 L945.7,1684.1 L946.6,1682.2 L947.6,1680.3 L948.5,1678.4 L949.4,1676.4 L950.4,1674.5 L951.3,1672.5 L952.2,1670.6 L953.1,1668.6 L954.1,1666.6 L955.0,1664.5 L955.8,1662.8 L956.6,1661.0 L957.4,1659.2 L958.2,1657.4 L959.0,1655.6 L959.8,1653.8 L960.6,1652.0 L961.4,1650.1 L962.2,1648.3 L963.1,1646.4 L963.9,1644.5 L964.7,1642.6 L965.5,1640.7 L966.3,1638.8 L967.1,1636.8 L967.8,1635.0 L968.6,1633.2 L969.3,1631.3 L970.1,1629.4 L970.9,1627.6 L971.6,1625.7 L972.4,1623.8 L973.1,1621.9 L973.9,1619.9 L974.6,1618.0 L975.4,1616.0 L976.1,1614.1 L976.9,1612.1 L977.7,1610.1 L978.4,1608.1 L979.2,1606.0 L979.8,1604.2 L980.5,1602.3 L981.2,1600.3 L981.9,1598.3 L982.6,1596.3 L983.4,1594.3 L984.1,1592.3 L984.8,1590.3 L985.5,1588.2 L986.2,1586.2 L986.9,1584.2 L987.5,1582.2 L988.2,1580.3 L988.8,1578.4 L989.5,1576.5 L990.1,1574.7 L990.7,1572.9 L991.2,1571.2 L992.0,1568.8 L992.8,1566.4 L993.5,1564.1 L994.2,1561.9 L994.9,1559.7 L995.5,1557.6 L996.1,1555.6 L996.7,1553.7 L997.3,1551.8 L997.8,1550.0 L998.3,1548.3 L998.8,1546.6 L999.7,1544.0 L1000.4,1541.7 L1001.1,1539.6 L1001.7,1537.6 L1002.3,1535.6 L1002.9,1533.7 L1003.5,1531.6 L1004.2,1529.4 L1004.8,1527.2 L1005.4,1525.1 L1006.0,1522.9 L1006.6,1520.7 L1007.2,1518.6 L1007.8,1516.4 L1008.4,1514.2 L1008.9,1512.1 L1009.5,1509.9 L1010.0,1507.7 L1010.5,1505.6 L1011.0,1503.4 L1011.6,1501.3 L1012.1,1499.1 L1012.6,1496.9 L1013.0,1494.8 L1013.5,1492.6 L1014.0,1490.4 L1014.4,1488.3 L1014.9,1486.1 L1015.3,1483.9 L1015.7,1481.8 L1016.0,1479.6 L1016.3,1477.4 L1016.6,1475.2 L1016.9,1473.0 L1017.1,1470.9 L1017.4,1468.7 L1017.7,1466.5 L1017.9,1464.3 L1018.2,1462.1 L1018.4,1460.0 L1018.7,1457.8 L1018.9,1455.6 L1019.1,1453.5 L1019.3,1451.3 L1019.5,1449.1 L1019.7,1446.9 L1019.9,1444.8 L1020.1,1442.6 L1020.3,1440.4 L1013.9,1439.6 L1013.5,1441.7 L1013.1,1443.8 L1012.6,1445.9 L1012.2,1448.0 L1011.8,1450.1 L1011.4,1452.3 L1010.9,1454.4 L1010.5,1456.5 L1010.0,1458.6 L1009.6,1460.7 L1009.1,1462.8 L1008.6,1464.9 L1008.1,1467.0 L1007.6,1469.1 L1007.1,1471.3 L1006.6,1473.4 L1006.1,1475.5 L1005.6,1477.6 L1005.1,1479.7 L1004.5,1481.8 L1004.1,1483.9 L1003.7,1486.0 L1003.2,1488.1 L1002.8,1490.3 L1002.3,1492.4 L1001.8,1494.5 L1001.3,1496.6 L1000.8,1498.7 L1000.3,1500.9 L999.8,1503.0 L999.3,1505.1 L998.8,1507.2 L998.3,1509.4 L997.7,1511.5 L997.2,1513.6 L996.6,1515.7 L996.0,1517.8 L995.4,1520.0 L994.8,1522.1 L994.2,1524.2 L993.6,1526.3 L993.0,1528.4 L992.4,1530.5 L991.8,1532.4 L991.2,1534.3 L990.6,1536.2 L989.9,1538.4 L989.2,1540.7 L988.3,1543.4 L987.8,1545.1 L987.3,1546.8 L986.7,1548.6 L986.2,1550.5 L985.6,1552.4 L985.0,1554.4 L984.4,1556.5 L983.7,1558.6 L983.0,1560.8 L982.3,1563.1 L981.6,1565.4 L980.8,1567.8 L980.2,1569.5 L979.6,1571.2 L979.0,1573.0 L978.4,1574.8 L977.8,1576.7 L977.1,1578.7 L976.5,1580.6 L975.8,1582.6 L975.1,1584.6 L974.4,1586.7 L973.7,1588.7 L973.0,1590.7 L972.3,1592.7 L971.6,1594.7 L970.9,1596.6 L970.2,1598.5 L969.5,1600.4 L968.8,1602.2 L968.1,1604.2 L967.3,1606.2 L966.6,1608.2 L965.9,1610.2 L965.1,1612.1 L964.4,1614.0 L963.6,1615.9 L962.9,1617.8 L962.1,1619.7 L961.4,1621.6 L960.6,1623.5 L959.9,1625.3 L959.2,1627.2 L958.4,1629.0 L957.7,1630.8 L956.9,1632.6 L956.1,1634.5 L955.3,1636.4 L954.5,1638.3 L953.7,1640.2 L952.9,1642.1 L952.2,1643.9 L951.4,1645.7 L950.6,1647.5 L949.8,1649.3 L949.0,1651.1 L948.2,1652.9 L947.4,1654.7 L946.6,1656.5 L945.8,1658.2 L945.0,1660.0 L944.1,1661.9 L943.2,1663.9 L942.3,1665.9 L941.3,1667.8 L940.4,1669.8 L939.5,1671.7 L938.6,1673.6 L937.7,1675.5 L936.8,1677.4 L935.8,1679.2 L934.9,1681.1 L934.0,1682.9 L933.1,1684.8 L932.1,1686.7 L931.1,1688.7 L930.1,1690.6 L929.1,1692.6 L928.1,1694.5 L927.1,1696.4 L926.1,1698.3 L925.1,1700.1 L924.2,1702.0 L923.2,1703.9 L922.2,1705.7 L921.2,1707.5 L920.2,1709.3 L919.2,1711.1 L918.2,1712.9 L917.2,1714.7 L916.2,1716.5 L915.2,1718.2 L914.2,1720.0 L913.2,1721.7 L912.2,1723.4 L911.2,1725.1 L910.3,1726.8 L909.3,1728.5 L908.2,1730.3 L907.1,1732.1 L906.0,1734.0 L904.9,1735.7 L903.9,1737.5 L902.8,1739.3 L901.7,1741.0 L900.6,1742.8 L899.5,1744.5 L898.4,1746.2 L897.4,1747.9 L896.2,1749.8 L895.0,1751.6 L893.8,1753.5 L892.6,1755.3 L891.4,1757.1 L890.2,1758.9 L889.0,1760.7 L887.8,1762.4 L886.7,1764.2 L885.5,1765.9 L884.3,1767.7 L883.1,1769.4 L881.9,1771.1 L880.7,1772.8 L879.5,1774.4 L878.3,1776.1 L877.1,1777.7 L876.0,1779.4 L874.8,1781.0 L873.6,1782.6 L872.3,1784.4 L870.9,1786.2 L869.6,1787.9 L868.3,1789.7 L867.0,1791.4 L865.7,1793.1 L864.3,1794.8 L863.0,1796.4 L861.7,1798.1 L860.4,1799.8 L859.1,1801.4 L857.7,1803.0 L856.4,1804.6 L855.1,1806.2 L853.8,1807.8 L852.5,1809.4 L851.1,1810.9 L849.8,1812.4 L848.3,1814.2 L846.9,1815.9 L845.4,1817.5 L843.9,1819.2 L842.4,1820.8 L840.9,1822.5 L839.5,1824.1 L838.0,1825.7 L836.5,1827.3 L835.0,1828.9 L833.5,1830.4 L832.0,1831.9 L830.6,1833.5 L829.1,1835.0 L827.6,1836.5 L826.1,1837.9 L824.6,1839.4 L823.2,1840.8 L821.7,1842.3 L820.2,1843.7 L818.7,1845.1 L817.2,1846.5 L815.8,1847.8 L814.3,1849.2 L812.6,1850.7 L810.9,1852.3 L809.2,1853.8 L807.5,1855.2 L805.8,1856.7 L804.1,1858.2 L802.5,1859.6 L800.8,1861.0 L799.1,1862.4 L797.4,1863.8 L795.7,1865.1 L794.0,1866.5 L792.3,1867.8 L790.6,1869.1 L788.9,1870.4 L787.3,1871.7 L785.6,1873.0 L783.9,1874.2 L782.2,1875.5 L780.5,1876.7 L778.8,1877.9 L777.1,1879.1 L775.4,1880.3 L773.7,1881.4 L772.1,1882.6 L770.4,1883.7 L768.7,1884.8 L767.0,1885.9 L765.3,1887.0 L763.6,1888.1 L761.9,1889.2 L760.2,1890.2 L758.5,1891.3 L756.9,1892.3 L755.2,1893.3 L753.2,1894.5 L751.2,1895.7 L749.3,1896.8 L747.3,1898.0 L745.3,1899.1 L743.3,1900.2 L741.4,1901.3 L739.4,1902.3 L737.4,1903.4 L735.4,1904.4 L733.5,1905.4 L731.5,1906.5 L729.5,1907.5 L727.6,1908.4 L725.6,1909.4 L723.6,1910.4 L721.6,1911.3 L719.6,1912.3 L717.7,1913.2 L715.7,1914.1 L713.7,1915.0 L711.7,1915.9 L709.8,1916.8 L707.8,1917.7 L705.8,1918.5 L703.8,1919.4 L701.9,1920.2 L699.9,1921.1 L697.9,1921.9 L695.9,1922.7 L693.9,1923.5 L692.0,1924.3 L690.0,1925.1 L688.0,1925.8 L686.0,1926.6 L684.0,1927.4 L682.1,1928.1 L680.1,1928.9 L678.1,1929.6 L676.1,1930.3 L674.1,1931.1 L672.1,1931.8 L670.2,1932.5 L668.2,1933.2 L666.2,1933.9 L664.2,1934.5 L662.2,1935.2 L660.2,1935.9 L658.3,1936.6 L656.3,1937.2 L654.3,1937.9 L652.3,1938.5 L650.3,1939.2 L648.3,1939.8 L646.3,1940.4 L644.4,1941.0 L642.4,1941.7 L640.4,1942.3 L638.4,1942.9 L636.4,1943.5 L634.4,1944.1 L632.4,1944.7 L630.5,1945.2 L628.5,1945.8 L626.5,1946.4 L624.5,1947.0 L622.5,1947.5 L620.5,1948.1 L618.5,1948.6 L616.5,1949.2 L614.6,1949.7 L612.6,1950.3 L610.6,1950.8 L608.6,1951.3 L606.6,1951.8 L604.6,1952.4 L602.6,1952.9 L600.7,1953.4 L598.7,1953.9 L596.7,1954.4 L594.7,1954.9 L592.7,1955.3 L590.7,1955.8 L588.7,1956.3 L586.7,1956.8 L584.8,1957.2 L582.8,1957.7 L580.8,1958.1 L578.8,1958.6 L576.8,1959.0 L574.8,1959.5 L572.8,1959.9 L570.9,1960.3 L568.9,1960.7 L566.9,1961.1 L564.9,1961.5 L562.9,1961.9 L560.9,1962.3 L559.0,1962.7 L557.0,1963.1 L555.0,1963.4 L553.0,1963.8 L551.0,1964.2 L549.1,1964.5 L547.1,1964.9 L545.1,1965.2 L543.1,1965.5 L541.1,1965.8 L539.2,1966.1 L537.2,1966.4 L535.2,1966.7 L533.2,1967.0 L531.3,1967.3 L529.3,1967.5 L527.3,1967.8 L525.3,1968.0 L523.4,1968.3 L521.4,1968.5 L519.4,1968.7 L517.5,1968.9 L515.5,1969.1 L513.5,1969.3 L511.5,1969.5 L509.6,1969.6 L507.6,1969.8 L505.7,1969.9 L503.7,1970.0 L501.7,1970.1 L499.8,1970.2 L497.8,1970.3 L495.8,1970.3 L493.9,1970.4 L491.9,1970.4 L490.0,1970.4 L488.0,1970.4 L486.1,1970.4 L484.1,1970.4 L482.2,1970.3 L480.2,1970.2 L478.3,1970.2 L476.4,1970.0 L474.4,1969.9 L472.5,1969.7 L470.6,1969.6 L468.6,1969.3 L466.7,1969.1 L464.8,1968.9 L462.9,1968.6 L460.9,1968.4 L459.0,1968.1 L456.9,1967.8 L454.8,1967.6 L452.9,1967.4 L451.1,1967.1 L449.5,1966.7 L448.1,1966.2 L446.6,1965.5 L445.1,1964.5 L443.5,1963.4 L441.9,1962.1 L440.4,1960.8 L438.9,1959.3 L437.4,1957.9 L436.1,1956.5 L434.8,1955.2 L433.6,1953.7 L432.4,1951.9 L431.1,1949.5 Z" fill="#00f"/>
<text transform="translate(239.5,946.8) scale(1,1.018)" font-size="72.5" text-anchor="end" fill="#000" >0.00</text>
<text transform="translate(239.5,717.1) scale(1,1.018)" font-size="72.5" text-anchor="end" fill="#000" >0.01</text>
<text transform="translate(239.5,487.4) scale(1,1.018)" font-size="72.5" text-anchor="end" fill="#000" >0.02</text>
<text transform="translate(239.5,257.7) scale(1,1.018)" font-size="72.5" text-anchor="end" fill="#000" >0.03</text>
<text transform="translate(260.0,1003.6) scale(1,1.02)" font-size="72.5" text-anchor="middle" fill="#000" >0.0</text>
<text transform="translate(486.6,1003.6) scale(1,1.02)" font-size="72.5" text-anchor="middle" fill="#000" >0.2</text>
<text transform="translate(713.2,1003.6) scale(1,1.02)" font-size="72.5" text-anchor="middle" fill="#000" >0.4</text>
<text transform="translate(939.8,1003.6) scale(1,1.02)" font-size="72.5" text-anchor="middle" fill="#000" >0.6</text>
<text transform="translate(1166.4,1003.6) scale(1,1.02)" font-size="72.5" text-anchor="middle" fill="#000" >0.8</text>
<text transform="translate(1393.0,1003.6) scale(1,1.02)" font-size="72.5" text-anchor="middle" fill="#000" >1.0</text>
<text x="627.5" y="1061.4" font-size="72.5" text-anchor="start" fill="#000" >Distance (cm)</text>
<text x="298.5" y="115.6" font-size="72.5" text-anchor="start" fill="#000" >(a)</text>
<text x="410.5" y="246.9" font-size="72.5" text-anchor="start" fill="#000" >electrons</text>
<text x="412" y="334.5" font-size="72.5" text-anchor="start" fill="#000" >ions</text>
<text x="1068.5" y="127.1" font-size="72.5" text-anchor="start" fill="#00f" >head</text>
<text transform="translate(532.5,509) scale(0.992,1)" font-size="72.5" fill="#00f">quasi-neutral</text>
<text x="532.5" y="599.3" font-size="72.5" text-anchor="start" fill="#00f" >plasma</text>
<line x1="294" y1="231" x2="393" y2="231" stroke="#000" stroke-width="7" stroke-linecap="round"/>
<line x1="294" y1="319.4" x2="393" y2="319.4" stroke="#f00" stroke-width="7" stroke-linecap="round"/>
<text transform="translate(94,909) rotate(-90)" font-size="72.5">Number density (10<tspan font-size="44" dy="-38">20</tspan><tspan dy="38"> m</tspan><tspan font-size="44" dy="-38">-3</tspan><tspan dy="38">)</tspan></text>
<text transform="translate(238.5,2040.8) scale(1,1.045)" font-size="70" text-anchor="end" fill="#000" >0.00</text>
<text transform="translate(238.5,1804.8) scale(1,1.045)" font-size="70" text-anchor="end" fill="#000" >0.01</text>
<text transform="translate(238.5,1568.8) scale(1,1.045)" font-size="70" text-anchor="end" fill="#000" >0.02</text>
<text transform="translate(238.5,1332.8) scale(1,1.045)" font-size="70" text-anchor="end" fill="#000" >0.03</text>
<text transform="translate(258.2,2092.8) scale(1,1.02)" font-size="71" text-anchor="middle" fill="#000" >0.0</text>
<text transform="translate(484.8,2092.8) scale(1,1.02)" font-size="71" text-anchor="middle" fill="#000" >0.2</text>
<text transform="translate(711.4,2092.8) scale(1,1.02)" font-size="71" text-anchor="middle" fill="#000" >0.4</text>
<text transform="translate(938.0,2092.8) scale(1,1.02)" font-size="71" text-anchor="middle" fill="#000" >0.6</text>
<text transform="translate(1164.6,2092.8) scale(1,1.02)" font-size="71" text-anchor="middle" fill="#000" >0.8</text>
<text transform="translate(1391.2,2092.8) scale(1,1.02)" font-size="71" text-anchor="middle" fill="#000" >1.0</text>
<text x="635" y="2155.9" font-size="70" text-anchor="start" fill="#000" >Distance (cm)</text>
<text x="303.5" y="1187.5" font-size="70" text-anchor="start" fill="#000" >(b)</text>
<text x="1238" y="1201.6" font-size="70" text-anchor="start" fill="#000" >2 ns</text>
<text x="1238" y="1286.1" font-size="70" text-anchor="start" fill="#000" >4 ns</text>
<text x="1238" y="1372.9" font-size="70" text-anchor="start" fill="#000" >6 ns</text>
<line x1="1126" y1="1187" x2="1222" y2="1187" stroke="#000" stroke-width="8.5" stroke-linecap="round"/>
<line x1="1126" y1="1273" x2="1222" y2="1273" stroke="#f00" stroke-width="8" stroke-linecap="round"/>
<line x1="1126" y1="1358" x2="1222" y2="1358" stroke="#00f" stroke-width="8" stroke-linecap="round"/>
<text transform="translate(97.2,1942) rotate(-90)" font-size="70">Electron density (10<tspan font-size="42" dy="-37">20</tspan><tspan dy="37"> m</tspan><tspan font-size="42" dy="-37">-3</tspan><tspan dy="37">)</tspan></text>
</svg>
</body></html>
